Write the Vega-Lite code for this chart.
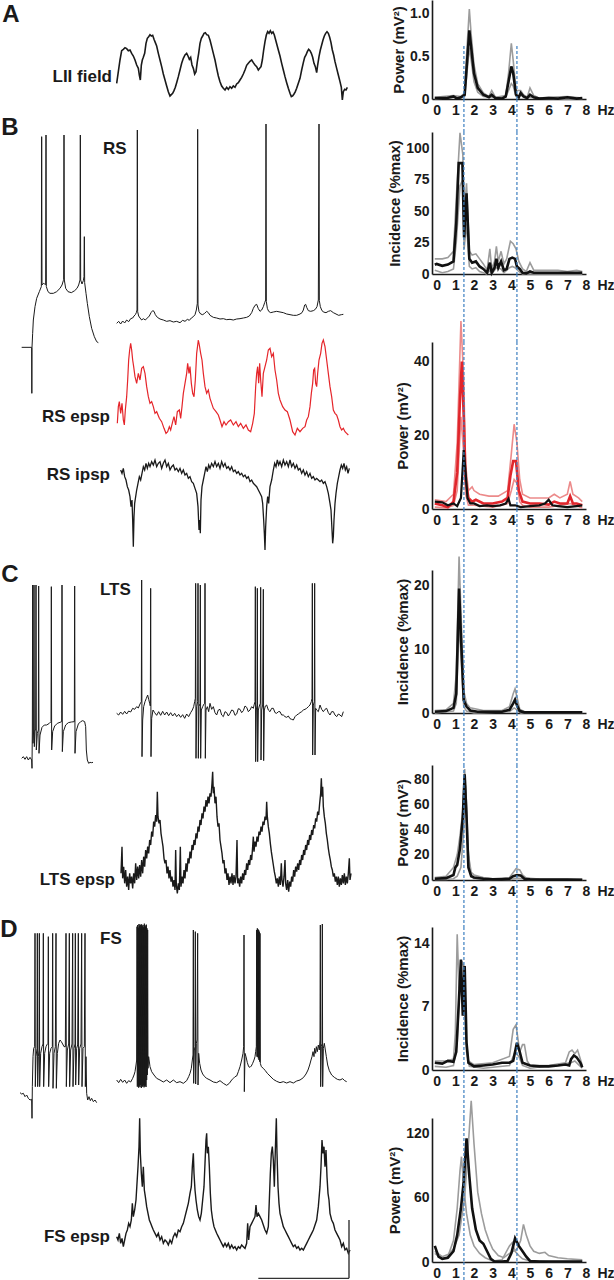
{
"$schema": "https://vega.github.io/schema/vega-lite/v6.json",
"padding": 0,
"autosize": {"type": "pad"},
"background": "white",
"spacing": 0,
"bounds": "flush",
"config": {
 "view": {"stroke": null},
 "axis": {"labelFont": "Liberation Sans", "labelFontWeight": "bold", "labelFontSize": 14, "labelColor": "#1a1a1a", "titleFont": "Liberation Sans", "titleFontWeight": "bold", "titleFontSize": 15, "titleColor": "#1a1a1a", "domainColor": "#1a1a1a", "domainWidth": 1.6, "ticks": false, "grid": false, "labelOverlap": false, "labelSeparation": 0},
 "axisX": {"labelFlush": false, "labelAngle": 0, "labelPadding": 4, "titleFontSize": 14, "titleX": 165, "titleY": 4, "titleAlign": "left", "titleBaseline": "top", "titleAngle": 0},
 "axisY": {"labelPadding": 3, "titlePadding": 3}
},
"datasets": {
 "guides": [{"hz": 1.46}, {"hz": 4.3}],
 "bar": [{"t": 1696, "t2": 2784, "v": -8.5, "v2": -8.5}, {"t": 2784, "t2": 2784, "v": -8.5, "v2": 9}],
 "lii": [{"t":-4,"v":0.5},{"t":16,"v":0.85},{"t":36,"v":1.2},{"t":56,"v":1.48},{"t":76,"v":1.52},{"t":96,"v":1.57},{"t":116,"v":1.54},{"t":136,"v":1.48},{"t":156,"v":1.5},{"t":176,"v":1.4},{"t":196,"v":1.32},{"t":216,"v":1.2},{"t":236,"v":1.05},{"t":256,"v":0.95},{"t":268,"v":0.75},{"t":280,"v":0.6},{"t":292,"v":1.05},{"t":304,"v":1.2},{"t":316,"v":1.28},{"t":332,"v":1.4},{"t":348,"v":1.7},{"t":364,"v":1.85},{"t":380,"v":1.9},{"t":396,"v":1.96},{"t":412,"v":1.92},{"t":428,"v":1.94},{"t":444,"v":1.82},{"t":460,"v":1.72},{"t":476,"v":1.62},{"t":496,"v":1.4},{"t":516,"v":1.2},{"t":536,"v":1.0},{"t":556,"v":0.78},{"t":576,"v":0.6},{"t":596,"v":0.42},{"t":616,"v":0.25},{"t":636,"v":0.12},{"t":652,"v":0.16},{"t":668,"v":0.2},{"t":684,"v":0.28},{"t":700,"v":0.38},{"t":716,"v":0.52},{"t":736,"v":0.7},{"t":756,"v":0.9},{"t":776,"v":1.1},{"t":796,"v":1.25},{"t":816,"v":1.35},{"t":836,"v":1.4},{"t":852,"v":1.32},{"t":868,"v":1.22},{"t":884,"v":1.28},{"t":900,"v":1.05},{"t":916,"v":0.95},{"t":932,"v":0.78},{"t":948,"v":0.85},{"t":964,"v":1.15},{"t":980,"v":1.4},{"t":996,"v":1.7},{"t":1012,"v":1.85},{"t":1028,"v":1.92},{"t":1044,"v":2.0},{"t":1060,"v":2.02},{"t":1076,"v":1.96},{"t":1096,"v":1.94},{"t":1116,"v":1.8},{"t":1136,"v":1.6},{"t":1156,"v":1.4},{"t":1176,"v":1.2},{"t":1196,"v":0.95},{"t":1216,"v":0.72},{"t":1236,"v":0.55},{"t":1256,"v":0.42},{"t":1276,"v":0.35},{"t":1296,"v":0.3},{"t":1316,"v":0.38},{"t":1336,"v":0.32},{"t":1356,"v":0.4},{"t":1376,"v":0.35},{"t":1396,"v":0.42},{"t":1416,"v":0.38},{"t":1436,"v":0.48},{"t":1456,"v":0.52},{"t":1476,"v":0.6},{"t":1496,"v":0.68},{"t":1516,"v":0.78},{"t":1536,"v":0.9},{"t":1556,"v":1.04},{"t":1576,"v":1.1},{"t":1596,"v":1.16},{"t":1616,"v":1.2},{"t":1636,"v":1.12},{"t":1656,"v":1.05},{"t":1676,"v":1.0},{"t":1696,"v":0.9},{"t":1712,"v":0.95},{"t":1728,"v":1.0},{"t":1744,"v":1.2},{"t":1760,"v":1.5},{"t":1776,"v":1.75},{"t":1792,"v":1.95},{"t":1808,"v":2.05},{"t":1824,"v":2.0},{"t":1840,"v":2.08},{"t":1856,"v":2.0},{"t":1872,"v":2.04},{"t":1888,"v":1.95},{"t":1904,"v":1.8},{"t":1920,"v":1.65},{"t":1936,"v":1.5},{"t":1956,"v":1.32},{"t":1976,"v":1.1},{"t":1996,"v":0.9},{"t":2016,"v":0.7},{"t":2036,"v":0.52},{"t":2056,"v":0.35},{"t":2076,"v":0.2},{"t":2092,"v":0.1},{"t":2108,"v":0.12},{"t":2124,"v":0.18},{"t":2140,"v":0.25},{"t":2156,"v":0.35},{"t":2176,"v":0.5},{"t":2196,"v":0.65},{"t":2216,"v":0.9},{"t":2236,"v":1.12},{"t":2252,"v":1.28},{"t":2268,"v":1.35},{"t":2284,"v":1.45},{"t":2300,"v":1.52},{"t":2316,"v":1.48},{"t":2332,"v":1.4},{"t":2348,"v":1.28},{"t":2364,"v":1.1},{"t":2380,"v":1.0},{"t":2396,"v":0.82},{"t":2408,"v":1.05},{"t":2424,"v":1.3},{"t":2440,"v":1.5},{"t":2456,"v":1.65},{"t":2472,"v":1.8},{"t":2488,"v":1.92},{"t":2504,"v":2.0},{"t":2520,"v":2.05},{"t":2536,"v":2.0},{"t":2552,"v":1.88},{"t":2568,"v":1.72},{"t":2584,"v":1.5},{"t":2600,"v":1.35},{"t":2616,"v":1.15},{"t":2636,"v":0.95},{"t":2656,"v":0.75},{"t":2676,"v":0.55},{"t":2692,"v":0.38},{"t":2704,"v":0.0},{"t":2716,"v":0.25},{"t":2732,"v":0.32},{"t":2748,"v":0.3},{"t":2764,"v":0.38}],
 "rs": [{"t":-4,"v":-1.0},{"t":20,"v":-0.4},{"t":44,"v":-1.2},{"t":68,"v":-0.3},{"t":92,"v":-0.9},{"t":116,"v":0.0},{"t":140,"v":-0.5},{"t":164,"v":0.4},{"t":188,"v":0.6},{"t":204,"v":1.2},{"t":220,"v":1.6},{"t":232,"v":2.2},{"t":240,"v":3.0},{"t":244,"v":57.0},{"t":248,"v":2.5},{"t":260,"v":1.2},{"t":276,"v":0.6},{"t":296,"v":0.0},{"t":316,"v":0.4},{"t":340,"v":0.0},{"t":364,"v":0.6},{"t":388,"v":1.2},{"t":408,"v":2.2},{"t":428,"v":2.8},{"t":444,"v":2.6},{"t":460,"v":1.6},{"t":484,"v":0.8},{"t":516,"v":0.3},{"t":556,"v":0.0},{"t":596,"v":-0.4},{"t":636,"v":-0.2},{"t":676,"v":-0.6},{"t":716,"v":-0.4},{"t":756,"v":-0.8},{"t":788,"v":-0.1},{"t":816,"v":-0.4},{"t":844,"v":0.2},{"t":868,"v":-0.1},{"t":892,"v":0.6},{"t":916,"v":1.0},{"t":936,"v":1.6},{"t":952,"v":3.0},{"t":964,"v":5.0},{"t":968,"v":57.2},{"t":972,"v":4.5},{"t":984,"v":2.5},{"t":1004,"v":1.8},{"t":1028,"v":1.6},{"t":1052,"v":2.0},{"t":1076,"v":2.6},{"t":1096,"v":2.2},{"t":1116,"v":1.4},{"t":1156,"v":0.8},{"t":1196,"v":0.6},{"t":1236,"v":0.3},{"t":1276,"v":0.4},{"t":1316,"v":0.1},{"t":1356,"v":0.2},{"t":1396,"v":0.0},{"t":1436,"v":0.3},{"t":1476,"v":0.4},{"t":1516,"v":0.6},{"t":1556,"v":0.8},{"t":1588,"v":1.2},{"t":1616,"v":2.2},{"t":1636,"v":3.5},{"t":1656,"v":4.4},{"t":1676,"v":4.7},{"t":1696,"v":3.4},{"t":1716,"v":2.6},{"t":1736,"v":3.0},{"t":1756,"v":4.0},{"t":1772,"v":5.2},{"t":1784,"v":6.0},{"t":1788,"v":58.8},{"t":1792,"v":5.5},{"t":1804,"v":3.5},{"t":1820,"v":2.6},{"t":1844,"v":2.2},{"t":1876,"v":2.4},{"t":1916,"v":2.6},{"t":1956,"v":2.4},{"t":1996,"v":2.2},{"t":2036,"v":1.8},{"t":2076,"v":1.6},{"t":2116,"v":1.4},{"t":2156,"v":1.4},{"t":2196,"v":1.8},{"t":2220,"v":2.2},{"t":2236,"v":3.0},{"t":2252,"v":4.5},{"t":2264,"v":4.7},{"t":2276,"v":3.8},{"t":2296,"v":2.8},{"t":2324,"v":2.6},{"t":2356,"v":2.8},{"t":2380,"v":3.2},{"t":2400,"v":4.0},{"t":2416,"v":6.0},{"t":2424,"v":58.8},{"t":2428,"v":5.8},{"t":2440,"v":4.0},{"t":2456,"v":3.0},{"t":2476,"v":2.4},{"t":2508,"v":2.2},{"t":2536,"v":2.6},{"t":2564,"v":2.8},{"t":2596,"v":2.2},{"t":2628,"v":1.8},{"t":2660,"v":1.4},{"t":2692,"v":1.6},{"t":2716,"v":1.7}],
 "rsE": [{"t":4,"v":4.0},{"t":16,"v":9.0},{"t":28,"v":10.5},{"t":44,"v":7.0},{"t":60,"v":10.0},{"t":76,"v":5.0},{"t":88,"v":3.5},{"t":100,"v":8.0},{"t":116,"v":12.0},{"t":128,"v":17.0},{"t":140,"v":23.0},{"t":152,"v":26.0},{"t":164,"v":28.0},{"t":176,"v":26.0},{"t":188,"v":23.0},{"t":200,"v":21.0},{"t":216,"v":18.0},{"t":236,"v":16.0},{"t":256,"v":19.0},{"t":276,"v":17.0},{"t":296,"v":20.5},{"t":316,"v":21.0},{"t":336,"v":19.0},{"t":356,"v":15.0},{"t":376,"v":12.0},{"t":396,"v":10.0},{"t":416,"v":10.5},{"t":436,"v":9.0},{"t":456,"v":7.0},{"t":476,"v":7.5},{"t":508,"v":5.5},{"t":536,"v":4.5},{"t":564,"v":2.5},{"t":588,"v":1.0},{"t":608,"v":1.5},{"t":628,"v":3.0},{"t":644,"v":2.0},{"t":668,"v":4.5},{"t":684,"v":6.0},{"t":704,"v":3.5},{"t":724,"v":7.5},{"t":748,"v":8.0},{"t":764,"v":5.5},{"t":780,"v":9.0},{"t":796,"v":13.0},{"t":816,"v":16.0},{"t":836,"v":19.0},{"t":848,"v":22.0},{"t":864,"v":19.0},{"t":876,"v":21.0},{"t":892,"v":16.0},{"t":908,"v":13.0},{"t":924,"v":12.0},{"t":940,"v":17.0},{"t":956,"v":25.0},{"t":976,"v":29.0},{"t":988,"v":27.5},{"t":1004,"v":25.0},{"t":1020,"v":23.0},{"t":1036,"v":19.0},{"t":1056,"v":15.0},{"t":1076,"v":13.0},{"t":1096,"v":14.0},{"t":1116,"v":11.5},{"t":1136,"v":10.0},{"t":1156,"v":8.5},{"t":1188,"v":7.5},{"t":1216,"v":6.5},{"t":1236,"v":5.0},{"t":1260,"v":3.0},{"t":1284,"v":4.5},{"t":1308,"v":3.5},{"t":1336,"v":4.5},{"t":1364,"v":5.0},{"t":1396,"v":3.5},{"t":1428,"v":4.5},{"t":1456,"v":3.0},{"t":1484,"v":4.0},{"t":1516,"v":2.5},{"t":1548,"v":3.5},{"t":1576,"v":2.0},{"t":1604,"v":1.5},{"t":1628,"v":4.0},{"t":1648,"v":7.0},{"t":1664,"v":15.0},{"t":1676,"v":19.0},{"t":1688,"v":21.0},{"t":1700,"v":16.0},{"t":1712,"v":22.0},{"t":1724,"v":17.0},{"t":1740,"v":12.0},{"t":1756,"v":19.0},{"t":1776,"v":21.0},{"t":1796,"v":23.0},{"t":1816,"v":26.0},{"t":1836,"v":26.5},{"t":1856,"v":24.0},{"t":1876,"v":25.0},{"t":1896,"v":20.0},{"t":1916,"v":17.0},{"t":1936,"v":13.0},{"t":1956,"v":11.0},{"t":1988,"v":9.0},{"t":2016,"v":8.0},{"t":2044,"v":7.5},{"t":2076,"v":5.0},{"t":2108,"v":1.5},{"t":2136,"v":0.5},{"t":2164,"v":2.5},{"t":2196,"v":1.5},{"t":2228,"v":2.5},{"t":2256,"v":3.0},{"t":2276,"v":5.0},{"t":2296,"v":6.0},{"t":2316,"v":9.0},{"t":2332,"v":13.0},{"t":2348,"v":16.0},{"t":2360,"v":20.0},{"t":2372,"v":20.5},{"t":2384,"v":16.0},{"t":2396,"v":15.0},{"t":2408,"v":19.0},{"t":2424,"v":23.0},{"t":2444,"v":25.0},{"t":2460,"v":28.0},{"t":2476,"v":29.0},{"t":2496,"v":27.0},{"t":2516,"v":23.0},{"t":2536,"v":19.0},{"t":2556,"v":15.0},{"t":2576,"v":12.0},{"t":2596,"v":8.0},{"t":2616,"v":7.0},{"t":2636,"v":6.5},{"t":2656,"v":5.0},{"t":2676,"v":3.0},{"t":2696,"v":2.0},{"t":2716,"v":2.5},{"t":2736,"v":1.5},{"t":2756,"v":1.0},{"t":2776,"v":0.5}],
 "rsI": [{"t":44,"v":0},{"t":60,"v":-1},{"t":76,"v":0.5},{"t":92,"v":-2},{"t":108,"v":-3},{"t":124,"v":-5},{"t":140,"v":-6},{"t":156,"v":-8},{"t":168,"v":-11},{"t":180,"v":-9},{"t":188,"v":-15},{"t":196,"v":-23},{"t":204,"v":-14},{"t":212,"v":-10},{"t":224,"v":-8},{"t":236,"v":-6},{"t":252,"v":-4},{"t":268,"v":-2},{"t":284,"v":-3},{"t":300,"v":-1},{"t":316,"v":1},{"t":332,"v":0},{"t":348,"v":2},{"t":364,"v":0.5},{"t":380,"v":2},{"t":396,"v":1},{"t":416,"v":2.5},{"t":436,"v":1.5},{"t":456,"v":3},{"t":476,"v":1},{"t":496,"v":2},{"t":516,"v":2.5},{"t":536,"v":0.5},{"t":556,"v":2},{"t":576,"v":3},{"t":596,"v":1},{"t":616,"v":2},{"t":636,"v":0},{"t":656,"v":1},{"t":676,"v":1.5},{"t":696,"v":0},{"t":716,"v":0.5},{"t":736,"v":-0.5},{"t":756,"v":0.5},{"t":776,"v":-1},{"t":796,"v":0},{"t":816,"v":-1.5},{"t":836,"v":-1},{"t":856,"v":-2.5},{"t":876,"v":-2},{"t":896,"v":-3.5},{"t":916,"v":-4},{"t":936,"v":-5.5},{"t":956,"v":-7},{"t":972,"v":-11},{"t":984,"v":-18},{"t":992,"v":-15},{"t":1000,"v":-19},{"t":1008,"v":-9},{"t":1020,"v":-5},{"t":1036,"v":-3},{"t":1052,"v":-1},{"t":1068,"v":1},{"t":1084,"v":-0.5},{"t":1100,"v":1.5},{"t":1116,"v":0.5},{"t":1136,"v":2},{"t":1156,"v":1},{"t":1176,"v":2.5},{"t":1196,"v":1},{"t":1216,"v":2},{"t":1236,"v":0.5},{"t":1256,"v":2.5},{"t":1276,"v":1},{"t":1296,"v":2},{"t":1316,"v":0.5},{"t":1336,"v":1},{"t":1356,"v":0},{"t":1376,"v":1},{"t":1396,"v":-0.5},{"t":1416,"v":0},{"t":1436,"v":-1},{"t":1456,"v":-0.5},{"t":1476,"v":-1.5},{"t":1496,"v":-1},{"t":1516,"v":-2},{"t":1536,"v":-1.5},{"t":1556,"v":-2.5},{"t":1576,"v":-2},{"t":1596,"v":-3.5},{"t":1616,"v":-3},{"t":1636,"v":-4},{"t":1656,"v":-4.5},{"t":1676,"v":-5},{"t":1696,"v":-6},{"t":1716,"v":-7},{"t":1736,"v":-8},{"t":1748,"v":-10},{"t":1760,"v":-15},{"t":1768,"v":-19},{"t":1776,"v":-24},{"t":1784,"v":-17},{"t":1796,"v":-11},{"t":1808,"v":-8},{"t":1820,"v":-10},{"t":1836,"v":-5},{"t":1856,"v":-3},{"t":1876,"v":0},{"t":1892,"v":2},{"t":1908,"v":1},{"t":1924,"v":3},{"t":1940,"v":1.5},{"t":1956,"v":2.5},{"t":1976,"v":1},{"t":1996,"v":3},{"t":2016,"v":1.5},{"t":2036,"v":2.5},{"t":2056,"v":1},{"t":2076,"v":3},{"t":2096,"v":1},{"t":2116,"v":2},{"t":2136,"v":0.5},{"t":2156,"v":1.5},{"t":2176,"v":0},{"t":2196,"v":0.5},{"t":2216,"v":-1},{"t":2236,"v":0},{"t":2256,"v":-1.5},{"t":2276,"v":-0.5},{"t":2296,"v":-2},{"t":2316,"v":-1},{"t":2336,"v":-2.5},{"t":2356,"v":-2},{"t":2376,"v":-3},{"t":2396,"v":-2.5},{"t":2416,"v":-3},{"t":2436,"v":-3.5},{"t":2456,"v":-3},{"t":2476,"v":-4},{"t":2496,"v":-3.5},{"t":2516,"v":-5},{"t":2536,"v":-7},{"t":2556,"v":-10},{"t":2568,"v":-12},{"t":2580,"v":-18},{"t":2588,"v":-22},{"t":2596,"v":-20},{"t":2604,"v":-15},{"t":2616,"v":-10},{"t":2628,"v":-7},{"t":2644,"v":-4},{"t":2660,"v":-2},{"t":2676,"v":0},{"t":2692,"v":1.5},{"t":2708,"v":0.5},{"t":2724,"v":2},{"t":2740,"v":0},{"t":2756,"v":1},{"t":2772,"v":-1},{"t":2788,"v":0.5}],
 "stepB": [{"t":10,"v":0},{"t":66,"v":0},{"t":70,"v":0},{"t":71,"v":-13.8},{"t":72,"v":0},{"t":76,"v":4.2},{"t":80,"v":8.2},{"t":90,"v":12.2},{"t":100,"v":14.7},{"t":116,"v":16.7},{"t":128,"v":18.2},{"t":130,"v":63.2},{"t":132,"v":18.7},{"t":140,"v":19.2},{"t":148,"v":19.0},{"t":154,"v":18.8},{"t":156,"v":63.7},{"t":158,"v":18.2},{"t":168,"v":16.7},{"t":180,"v":16.2},{"t":200,"v":16.2},{"t":220,"v":16.7},{"t":240,"v":17.7},{"t":252,"v":18.7},{"t":260,"v":20.0},{"t":262,"v":20.4},{"t":264,"v":63.7},{"t":266,"v":20.2},{"t":274,"v":17.7},{"t":288,"v":16.7},{"t":308,"v":16.4},{"t":328,"v":17.0},{"t":342,"v":17.7},{"t":352,"v":18.7},{"t":360,"v":20.2},{"t":362,"v":63.7},{"t":364,"v":20.2},{"t":372,"v":19.0},{"t":380,"v":20.0},{"t":384,"v":21.2},{"t":386,"v":33.2},{"t":388,"v":19.4},{"t":396,"v":16.2},{"t":404,"v":13.2},{"t":416,"v":9.2},{"t":430,"v":5.7},{"t":446,"v":3.2},{"t":460,"v":1.7},{"t":470,"v":1.4}],
 "lts": [{"t":-4,"v":0},{"t":20,"v":-0.5},{"t":44,"v":0.4},{"t":68,"v":-0.3},{"t":92,"v":0.6},{"t":116,"v":-0.2},{"t":140,"v":0.7},{"t":164,"v":0.4},{"t":188,"v":1.5},{"t":212,"v":1.2},{"t":236,"v":2.0},{"t":256,"v":1.6},{"t":276,"v":2.8},{"t":292,"v":3.5},{"t":296,"v":40.0},{"t":300,"v":-13.0},{"t":308,"v":-2.0},{"t":320,"v":2.0},{"t":336,"v":3.5},{"t":352,"v":4.5},{"t":368,"v":5.5},{"t":380,"v":4.2},{"t":392,"v":3.0},{"t":400,"v":2.2},{"t":404,"v":37.5},{"t":408,"v":-13.0},{"t":416,"v":-1.5},{"t":432,"v":1.0},{"t":452,"v":0.2},{"t":476,"v":-0.6},{"t":500,"v":0.5},{"t":524,"v":-0.6},{"t":548,"v":0.6},{"t":572,"v":-0.5},{"t":596,"v":0.4},{"t":620,"v":-0.7},{"t":644,"v":0.2},{"t":668,"v":-0.8},{"t":692,"v":0},{"t":716,"v":-1.0},{"t":740,"v":-0.3},{"t":764,"v":-1.2},{"t":788,"v":-0.4},{"t":812,"v":-1.5},{"t":836,"v":-0.2},{"t":860,"v":-1.0},{"t":884,"v":0.2},{"t":904,"v":1.0},{"t":920,"v":2.0},{"t":932,"v":3.5},{"t":940,"v":4.5},{"t":944,"v":39.0},{"t":948,"v":-13.5},{"t":956,"v":2.0},{"t":968,"v":3.5},{"t":972,"v":39.0},{"t":976,"v":-13.5},{"t":984,"v":2.0},{"t":996,"v":3.0},{"t":1000,"v":38.5},{"t":1004,"v":-13.5},{"t":1012,"v":1.0},{"t":1028,"v":2.0},{"t":1044,"v":2.8},{"t":1052,"v":3.0},{"t":1056,"v":39.0},{"t":1060,"v":-13.5},{"t":1068,"v":1.0},{"t":1084,"v":2.0},{"t":1100,"v":0.5},{"t":1116,"v":3.0},{"t":1136,"v":1.2},{"t":1156,"v":2.0},{"t":1176,"v":0.2},{"t":1196,"v":-0.5},{"t":1216,"v":1.0},{"t":1236,"v":1.2},{"t":1256,"v":-0.5},{"t":1276,"v":-1.0},{"t":1296,"v":0.5},{"t":1316,"v":0.2},{"t":1336,"v":-0.8},{"t":1356,"v":0},{"t":1376,"v":1.0},{"t":1396,"v":0.8},{"t":1416,"v":-0.6},{"t":1436,"v":-0.2},{"t":1456,"v":1.4},{"t":1476,"v":1.2},{"t":1496,"v":0.2},{"t":1516,"v":0.8},{"t":1536,"v":2.2},{"t":1556,"v":1.8},{"t":1576,"v":0.5},{"t":1596,"v":1.0},{"t":1616,"v":2.0},{"t":1636,"v":1.5},{"t":1648,"v":2.8},{"t":1656,"v":3.5},{"t":1660,"v":38.0},{"t":1664,"v":-14.5},{"t":1672,"v":1.0},{"t":1680,"v":2.5},{"t":1684,"v":37.5},{"t":1688,"v":-14.5},{"t":1696,"v":1.0},{"t":1708,"v":2.2},{"t":1720,"v":3.0},{"t":1724,"v":37.8},{"t":1728,"v":-14.0},{"t":1736,"v":1.0},{"t":1748,"v":2.5},{"t":1756,"v":37.2},{"t":1760,"v":-14.2},{"t":1768,"v":1.0},{"t":1780,"v":2.2},{"t":1796,"v":2.5},{"t":1816,"v":1.0},{"t":1836,"v":0.5},{"t":1856,"v":1.5},{"t":1876,"v":1.5},{"t":1896,"v":0.2},{"t":1916,"v":0},{"t":1936,"v":0.5},{"t":1956,"v":0.5},{"t":1976,"v":-0.5},{"t":1996,"v":-0.5},{"t":2016,"v":-1.0},{"t":2036,"v":-1.2},{"t":2056,"v":-0.8},{"t":2076,"v":-1.6},{"t":2096,"v":-1.8},{"t":2116,"v":-2.0},{"t":2136,"v":-1.0},{"t":2156,"v":-0.5},{"t":2176,"v":-0.2},{"t":2196,"v":0.2},{"t":2216,"v":0.5},{"t":2236,"v":1.0},{"t":2256,"v":1.2},{"t":2276,"v":1.5},{"t":2296,"v":2.0},{"t":2316,"v":2.5},{"t":2332,"v":3.5},{"t":2340,"v":4.5},{"t":2344,"v":39.0},{"t":2348,"v":-12.5},{"t":2356,"v":2.5},{"t":2368,"v":3.5},{"t":2372,"v":39.0},{"t":2376,"v":-12.5},{"t":2384,"v":1.5},{"t":2396,"v":1.0},{"t":2416,"v":0.5},{"t":2436,"v":2.5},{"t":2456,"v":1.2},{"t":2476,"v":0.5},{"t":2496,"v":1.2},{"t":2516,"v":1.5},{"t":2536,"v":0.2},{"t":2556,"v":-0.5},{"t":2576,"v":0.5},{"t":2596,"v":0.5},{"t":2616,"v":-0.5},{"t":2636,"v":-1.0},{"t":2656,"v":-0.2},{"t":2676,"v":-0.5},{"t":2696,"v":-1.0},{"t":2716,"v":0.5}],
 "ltsE": [{"t":48,"v":2},{"t":60,"v":10},{"t":68,"v":0.5},{"t":80,"v":4},{"t":92,"v":-1},{"t":104,"v":3},{"t":116,"v":-2},{"t":128,"v":1},{"t":140,"v":-3},{"t":152,"v":2},{"t":164,"v":-1},{"t":176,"v":1},{"t":188,"v":-2.5},{"t":200,"v":2},{"t":212,"v":-1},{"t":224,"v":5},{"t":236,"v":0},{"t":248,"v":4},{"t":260,"v":0.5},{"t":272,"v":4.5},{"t":284,"v":1},{"t":296,"v":6},{"t":308,"v":2},{"t":320,"v":7},{"t":332,"v":4},{"t":344,"v":9},{"t":356,"v":6.5},{"t":368,"v":10},{"t":380,"v":8},{"t":392,"v":12},{"t":404,"v":10.5},{"t":416,"v":14.5},{"t":428,"v":13},{"t":440,"v":17.5},{"t":452,"v":16},{"t":464,"v":19.5},{"t":476,"v":17.5},{"t":484,"v":26.5},{"t":492,"v":19},{"t":504,"v":17},{"t":516,"v":18},{"t":528,"v":14},{"t":540,"v":12},{"t":552,"v":10},{"t":564,"v":6.5},{"t":576,"v":5},{"t":588,"v":6},{"t":600,"v":2},{"t":612,"v":4},{"t":624,"v":0.5},{"t":636,"v":3},{"t":648,"v":-0.5},{"t":660,"v":1},{"t":672,"v":-2},{"t":684,"v":0},{"t":696,"v":-3},{"t":704,"v":9},{"t":712,"v":-1.5},{"t":724,"v":-4},{"t":736,"v":-1},{"t":748,"v":-3},{"t":760,"v":10},{"t":768,"v":-2},{"t":780,"v":1},{"t":792,"v":-1},{"t":804,"v":3},{"t":816,"v":0.5},{"t":828,"v":5},{"t":840,"v":2.5},{"t":852,"v":6.5},{"t":864,"v":5},{"t":876,"v":8.5},{"t":888,"v":6.5},{"t":900,"v":10.5},{"t":912,"v":9},{"t":924,"v":12},{"t":936,"v":10.5},{"t":948,"v":14},{"t":960,"v":12.5},{"t":972,"v":16},{"t":984,"v":14.5},{"t":996,"v":18},{"t":1008,"v":16.5},{"t":1020,"v":20},{"t":1032,"v":18.5},{"t":1044,"v":22},{"t":1056,"v":20.5},{"t":1068,"v":24},{"t":1080,"v":22},{"t":1092,"v":25},{"t":1104,"v":23},{"t":1116,"v":26},{"t":1128,"v":25},{"t":1140,"v":29},{"t":1148,"v":32.5},{"t":1156,"v":26},{"t":1164,"v":28},{"t":1176,"v":23},{"t":1188,"v":25},{"t":1200,"v":19},{"t":1212,"v":16},{"t":1224,"v":17},{"t":1236,"v":12},{"t":1248,"v":10},{"t":1260,"v":8},{"t":1272,"v":5},{"t":1284,"v":6},{"t":1296,"v":2},{"t":1308,"v":3.5},{"t":1320,"v":0},{"t":1332,"v":2},{"t":1344,"v":-1.5},{"t":1356,"v":1},{"t":1368,"v":-1},{"t":1380,"v":2},{"t":1392,"v":-1.5},{"t":1404,"v":1.5},{"t":1416,"v":-1},{"t":1428,"v":1},{"t":1440,"v":12},{"t":1448,"v":-1},{"t":1460,"v":0.5},{"t":1472,"v":-2},{"t":1484,"v":1},{"t":1496,"v":-1},{"t":1508,"v":2},{"t":1520,"v":0},{"t":1532,"v":3},{"t":1544,"v":1.5},{"t":1556,"v":5},{"t":1568,"v":3},{"t":1580,"v":6},{"t":1592,"v":4.5},{"t":1604,"v":7.5},{"t":1616,"v":6},{"t":1628,"v":10},{"t":1636,"v":13},{"t":1644,"v":8.5},{"t":1656,"v":11.5},{"t":1668,"v":10},{"t":1680,"v":13},{"t":1692,"v":11.5},{"t":1704,"v":14.5},{"t":1716,"v":13.5},{"t":1728,"v":16},{"t":1740,"v":14.5},{"t":1752,"v":17.5},{"t":1764,"v":16.5},{"t":1776,"v":19},{"t":1788,"v":18},{"t":1796,"v":23.5},{"t":1804,"v":19},{"t":1816,"v":16},{"t":1828,"v":14},{"t":1840,"v":11},{"t":1852,"v":8.5},{"t":1864,"v":6.5},{"t":1876,"v":4.5},{"t":1888,"v":2.5},{"t":1900,"v":1},{"t":1912,"v":-1},{"t":1924,"v":0.5},{"t":1936,"v":-2},{"t":1948,"v":1},{"t":1960,"v":-1.5},{"t":1972,"v":5},{"t":1980,"v":0},{"t":1992,"v":-2},{"t":2004,"v":1},{"t":2016,"v":6},{"t":2024,"v":-1},{"t":2036,"v":-3},{"t":2048,"v":0},{"t":2060,"v":-3.5},{"t":2072,"v":-0.5},{"t":2084,"v":-2},{"t":2096,"v":1},{"t":2108,"v":-0.5},{"t":2120,"v":3},{"t":2132,"v":1},{"t":2144,"v":4},{"t":2156,"v":2.5},{"t":2168,"v":5},{"t":2180,"v":3},{"t":2192,"v":6},{"t":2204,"v":4.5},{"t":2216,"v":7.5},{"t":2228,"v":6},{"t":2240,"v":9},{"t":2252,"v":7.5},{"t":2264,"v":10.5},{"t":2276,"v":9},{"t":2288,"v":12},{"t":2300,"v":10.5},{"t":2312,"v":13.5},{"t":2324,"v":12},{"t":2336,"v":15},{"t":2348,"v":13.5},{"t":2360,"v":16.5},{"t":2372,"v":15.5},{"t":2384,"v":18.5},{"t":2396,"v":17.5},{"t":2408,"v":20.5},{"t":2420,"v":19.5},{"t":2432,"v":23},{"t":2444,"v":26},{"t":2452,"v":30.5},{"t":2460,"v":25},{"t":2468,"v":28},{"t":2476,"v":22},{"t":2488,"v":19},{"t":2500,"v":17},{"t":2512,"v":14},{"t":2524,"v":12},{"t":2536,"v":9.5},{"t":2548,"v":7.5},{"t":2560,"v":6},{"t":2572,"v":4},{"t":2584,"v":3},{"t":2596,"v":1},{"t":2608,"v":2},{"t":2620,"v":-0.5},{"t":2632,"v":1},{"t":2644,"v":-1.5},{"t":2656,"v":1},{"t":2668,"v":-2},{"t":2680,"v":0.5},{"t":2692,"v":-1.5},{"t":2704,"v":1.5},{"t":2716,"v":-1},{"t":2728,"v":2},{"t":2740,"v":-1.5},{"t":2752,"v":1},{"t":2764,"v":-1},{"t":2776,"v":2},{"t":2788,"v":6.5},{"t":2796,"v":0},{"t":2808,"v":2}],
 "stepC": [{"t":10,"v":0},{"t":20,"v":0.5},{"t":30,"v":-0.3},{"t":40,"v":0.5},{"t":50,"v":-0.5},{"t":60,"v":0.3},{"t":70,"v":-0.5},{"t":72,"v":-3.0},{"t":74,"v":8.5},{"t":76,"v":52.0},{"t":78,"v":4.5},{"t":82,"v":8.5},{"t":84,"v":52.0},{"t":86,"v":3.5},{"t":90,"v":8.5},{"t":94,"v":8.5},{"t":96,"v":52.0},{"t":98,"v":2.5},{"t":104,"v":7.5},{"t":110,"v":8.5},{"t":112,"v":51.7},{"t":114,"v":1.5},{"t":120,"v":7.0},{"t":132,"v":9.3},{"t":146,"v":10.0},{"t":160,"v":10.0},{"t":176,"v":10.5},{"t":186,"v":11.0},{"t":188,"v":51.5},{"t":190,"v":2.5},{"t":196,"v":8.0},{"t":208,"v":9.7},{"t":224,"v":10.5},{"t":240,"v":10.8},{"t":250,"v":11.0},{"t":252,"v":52.0},{"t":254,"v":2.0},{"t":260,"v":8.0},{"t":274,"v":10.0},{"t":290,"v":10.7},{"t":308,"v":10.9},{"t":326,"v":11.0},{"t":328,"v":51.7},{"t":330,"v":1.5},{"t":336,"v":8.0},{"t":350,"v":10.3},{"t":364,"v":11.0},{"t":376,"v":11.3},{"t":388,"v":11.0},{"t":394,"v":9.5},{"t":398,"v":2.5},{"t":404,"v":-0.5},{"t":412,"v":-1.5},{"t":420,"v":-1.2},{"t":430,"v":-1.3},{"t":438,"v":-1.2}],
 "fs": [{"t":-4,"v":0.5},{"t":20,"v":-0.3},{"t":44,"v":0.7},{"t":68,"v":-0.2},{"t":92,"v":0.5},{"t":116,"v":-0.5},{"t":140,"v":0.3},{"t":164,"v":-0.1},{"t":188,"v":1.0},{"t":204,"v":2.0},{"t":216,"v":3.0},{"t":228,"v":5.0},{"t":236,"v":6.5},{"t":240,"v":46.5},{"t":244,"v":-1.5},{"t":248,"v":47.0},{"t":252,"v":-1.0},{"t":256,"v":46.2},{"t":260,"v":-1.8},{"t":264,"v":47.3},{"t":268,"v":-1.2},{"t":272,"v":46.8},{"t":276,"v":-1.6},{"t":280,"v":47.1},{"t":284,"v":-1.0},{"t":288,"v":46.4},{"t":292,"v":-1.9},{"t":296,"v":47.2},{"t":300,"v":-1.3},{"t":304,"v":46.6},{"t":308,"v":-1.5},{"t":312,"v":47.0},{"t":316,"v":-1.1},{"t":320,"v":46.3},{"t":324,"v":-1.7},{"t":328,"v":47.4},{"t":332,"v":-1.4},{"t":336,"v":46.9},{"t":340,"v":-1.2},{"t":344,"v":46.5},{"t":348,"v":-1.6},{"t":352,"v":47.1},{"t":356,"v":0.5},{"t":360,"v":46.0},{"t":364,"v":2.0},{"t":368,"v":45.5},{"t":372,"v":4.0},{"t":380,"v":7.5},{"t":396,"v":4.5},{"t":416,"v":3.0},{"t":444,"v":2.0},{"t":476,"v":1.0},{"t":516,"v":0.5},{"t":556,"v":-0.1},{"t":596,"v":0.5},{"t":636,"v":-0.3},{"t":676,"v":0.5},{"t":716,"v":-0.3},{"t":756,"v":0},{"t":796,"v":-0.5},{"t":836,"v":0.3},{"t":860,"v":1.5},{"t":876,"v":2.5},{"t":892,"v":4.0},{"t":904,"v":6.5},{"t":912,"v":8.0},{"t":916,"v":45.5},{"t":920,"v":-0.5},{"t":928,"v":9.5},{"t":936,"v":10.5},{"t":940,"v":45.0},{"t":944,"v":-0.7},{"t":952,"v":11.5},{"t":960,"v":12.5},{"t":968,"v":44.5},{"t":972,"v":-1.0},{"t":980,"v":8.5},{"t":992,"v":5.5},{"t":1008,"v":3.5},{"t":1028,"v":2.3},{"t":1052,"v":1.5},{"t":1076,"v":1.0},{"t":1116,"v":0.5},{"t":1156,"v":-0.1},{"t":1196,"v":-0.3},{"t":1236,"v":0.3},{"t":1276,"v":-0.5},{"t":1316,"v":-1.1},{"t":1348,"v":-0.5},{"t":1376,"v":0.5},{"t":1396,"v":1.0},{"t":1416,"v":1.5},{"t":1436,"v":1.7},{"t":1456,"v":3.0},{"t":1476,"v":4.5},{"t":1496,"v":6.5},{"t":1512,"v":8.5},{"t":1520,"v":10.5},{"t":1524,"v":44.0},{"t":1528,"v":-3.0},{"t":1536,"v":8.5},{"t":1548,"v":7.5},{"t":1564,"v":5.7},{"t":1580,"v":4.5},{"t":1596,"v":4.3},{"t":1612,"v":4.7},{"t":1628,"v":5.5},{"t":1644,"v":6.5},{"t":1656,"v":7.5},{"t":1664,"v":9.0},{"t":1672,"v":10.5},{"t":1676,"v":45.5},{"t":1680,"v":7.5},{"t":1684,"v":46.0},{"t":1688,"v":7.5},{"t":1692,"v":45.7},{"t":1696,"v":7.0},{"t":1700,"v":45.5},{"t":1704,"v":6.5},{"t":1708,"v":45.0},{"t":1712,"v":6.0},{"t":1716,"v":44.5},{"t":1720,"v":5.5},{"t":1732,"v":4.5},{"t":1756,"v":4.0},{"t":1780,"v":3.3},{"t":1804,"v":2.5},{"t":1836,"v":1.7},{"t":1876,"v":0.7},{"t":1916,"v":0.1},{"t":1956,"v":-0.3},{"t":1996,"v":0},{"t":2036,"v":-0.4},{"t":2076,"v":0},{"t":2116,"v":-0.4},{"t":2156,"v":0.2},{"t":2196,"v":0.5},{"t":2236,"v":1.2},{"t":2268,"v":2.3},{"t":2292,"v":3.5},{"t":2312,"v":5.0},{"t":2328,"v":6.5},{"t":2340,"v":7.5},{"t":2352,"v":9.0},{"t":2364,"v":7.5},{"t":2372,"v":10.0},{"t":2384,"v":8.5},{"t":2392,"v":10.5},{"t":2404,"v":9.0},{"t":2416,"v":11.0},{"t":2428,"v":9.5},{"t":2436,"v":12.5},{"t":2440,"v":47.0},{"t":2444,"v":-1.5},{"t":2452,"v":10.5},{"t":2460,"v":11.5},{"t":2464,"v":47.3},{"t":2468,"v":-1.5},{"t":2476,"v":10.0},{"t":2488,"v":11.5},{"t":2500,"v":9.5},{"t":2512,"v":7.5},{"t":2528,"v":5.0},{"t":2548,"v":3.3},{"t":2576,"v":2.0},{"t":2608,"v":1.3},{"t":2644,"v":0.7},{"t":2676,"v":0.5},{"t":2708,"v":0.9},{"t":2732,"v":0.3},{"t":2756,"v":0}],
 "fsE": [{"t":-4,"v":4},{"t":12,"v":3},{"t":28,"v":5},{"t":44,"v":2},{"t":60,"v":3.5},{"t":76,"v":1},{"t":92,"v":3},{"t":108,"v":5},{"t":124,"v":6},{"t":140,"v":8},{"t":156,"v":7},{"t":172,"v":9},{"t":184,"v":14},{"t":196,"v":10},{"t":212,"v":12},{"t":228,"v":15},{"t":240,"v":20},{"t":252,"v":25},{"t":264,"v":31},{"t":272,"v":39.5},{"t":280,"v":29},{"t":292,"v":23},{"t":304,"v":19},{"t":316,"v":25},{"t":328,"v":18},{"t":340,"v":16},{"t":356,"v":13},{"t":372,"v":11},{"t":388,"v":9},{"t":404,"v":8},{"t":420,"v":7},{"t":436,"v":6},{"t":456,"v":5},{"t":476,"v":4},{"t":496,"v":5},{"t":516,"v":3},{"t":536,"v":4},{"t":556,"v":2},{"t":576,"v":3},{"t":596,"v":2.5},{"t":616,"v":1.5},{"t":636,"v":3},{"t":656,"v":2},{"t":676,"v":4},{"t":696,"v":5},{"t":716,"v":4},{"t":736,"v":6},{"t":756,"v":5.5},{"t":776,"v":7},{"t":796,"v":8},{"t":816,"v":10},{"t":836,"v":12},{"t":856,"v":14},{"t":876,"v":17},{"t":892,"v":19},{"t":904,"v":25},{"t":916,"v":29},{"t":924,"v":23},{"t":936,"v":18},{"t":948,"v":15},{"t":964,"v":12},{"t":980,"v":10},{"t":996,"v":9},{"t":1012,"v":11},{"t":1028,"v":15},{"t":1044,"v":19},{"t":1056,"v":26},{"t":1068,"v":33},{"t":1076,"v":35},{"t":1084,"v":29},{"t":1096,"v":31},{"t":1108,"v":25},{"t":1120,"v":17},{"t":1132,"v":12},{"t":1148,"v":9},{"t":1164,"v":7},{"t":1180,"v":6},{"t":1196,"v":5},{"t":1216,"v":4},{"t":1236,"v":3},{"t":1256,"v":2},{"t":1276,"v":1},{"t":1296,"v":2},{"t":1316,"v":1},{"t":1336,"v":2},{"t":1356,"v":0.5},{"t":1376,"v":1.5},{"t":1396,"v":0.5},{"t":1416,"v":1},{"t":1436,"v":0},{"t":1456,"v":1},{"t":1476,"v":0.5},{"t":1496,"v":1.5},{"t":1516,"v":1},{"t":1536,"v":0.5},{"t":1556,"v":2},{"t":1568,"v":8},{"t":1580,"v":3},{"t":1596,"v":7},{"t":1616,"v":8},{"t":1636,"v":9},{"t":1656,"v":10},{"t":1668,"v":13.5},{"t":1680,"v":10},{"t":1696,"v":11},{"t":1716,"v":10},{"t":1736,"v":9},{"t":1756,"v":7.5},{"t":1776,"v":6},{"t":1796,"v":5},{"t":1816,"v":7},{"t":1828,"v":15},{"t":1840,"v":23},{"t":1852,"v":29},{"t":1864,"v":31},{"t":1876,"v":27},{"t":1888,"v":19},{"t":1900,"v":30},{"t":1912,"v":39.5},{"t":1920,"v":29},{"t":1932,"v":19},{"t":1944,"v":14},{"t":1956,"v":11},{"t":1976,"v":9},{"t":1996,"v":7},{"t":2016,"v":6},{"t":2036,"v":5},{"t":2056,"v":4},{"t":2076,"v":3},{"t":2096,"v":2},{"t":2116,"v":1},{"t":2136,"v":1.5},{"t":2156,"v":0.5},{"t":2176,"v":1},{"t":2196,"v":0},{"t":2216,"v":0.5},{"t":2236,"v":0},{"t":2256,"v":1},{"t":2276,"v":2},{"t":2296,"v":3},{"t":2316,"v":4},{"t":2336,"v":5},{"t":2356,"v":6},{"t":2376,"v":7.5},{"t":2396,"v":9},{"t":2416,"v":13},{"t":2436,"v":19},{"t":2448,"v":25},{"t":2460,"v":33},{"t":2472,"v":29},{"t":2484,"v":31},{"t":2496,"v":25},{"t":2508,"v":30},{"t":2520,"v":22},{"t":2532,"v":17},{"t":2544,"v":15},{"t":2556,"v":11},{"t":2576,"v":9},{"t":2596,"v":8},{"t":2616,"v":6},{"t":2636,"v":5},{"t":2656,"v":4},{"t":2676,"v":3},{"t":2696,"v":1},{"t":2716,"v":2},{"t":2736,"v":0},{"t":2756,"v":0.5},{"t":2776,"v":-1},{"t":2796,"v":0}],
 "stepD": [{"t":0,"v":0.2},{"t":10,"v":-0.2},{"t":20,"v":0},{"t":30,"v":-1.0},{"t":40,"v":-0.5},{"t":50,"v":-1.5},{"t":60,"v":-2.0},{"t":70,"v":-1.8},{"t":72,"v":-7.5},{"t":74,"v":2.0},{"t":78,"v":11.0},{"t":82,"v":13.5},{"t":88,"v":14.0},{"t":90,"v":48.0},{"t":92,"v":2.0},{"t":96,"v":11.0},{"t":102,"v":13.5},{"t":104,"v":48.0},{"t":106,"v":2.0},{"t":110,"v":11.0},{"t":114,"v":13.0},{"t":116,"v":48.0},{"t":118,"v":2.0},{"t":124,"v":12.0},{"t":132,"v":14.0},{"t":138,"v":14.8},{"t":140,"v":48.0},{"t":142,"v":2.0},{"t":148,"v":12.0},{"t":156,"v":14.0},{"t":164,"v":14.8},{"t":168,"v":15.0},{"t":170,"v":47.0},{"t":172,"v":2.0},{"t":178,"v":12.0},{"t":186,"v":13.5},{"t":194,"v":14.0},{"t":196,"v":48.0},{"t":198,"v":1.5},{"t":204,"v":12.0},{"t":212,"v":14.0},{"t":216,"v":48.0},{"t":218,"v":1.5},{"t":224,"v":12.0},{"t":232,"v":15.0},{"t":240,"v":16.0},{"t":248,"v":15.5},{"t":256,"v":14.8},{"t":264,"v":14.0},{"t":272,"v":14.0},{"t":276,"v":48.0},{"t":278,"v":2.0},{"t":284,"v":13.0},{"t":292,"v":14.8},{"t":296,"v":48.0},{"t":298,"v":2.0},{"t":304,"v":13.0},{"t":312,"v":14.8},{"t":316,"v":48.0},{"t":318,"v":2.0},{"t":324,"v":13.5},{"t":330,"v":14.8},{"t":332,"v":48.0},{"t":334,"v":2.5},{"t":340,"v":13.5},{"t":346,"v":14.5},{"t":350,"v":48.0},{"t":352,"v":2.5},{"t":358,"v":13.5},{"t":366,"v":14.8},{"t":370,"v":48.0},{"t":372,"v":2.0},{"t":378,"v":13.5},{"t":386,"v":14.0},{"t":390,"v":48.0},{"t":392,"v":2.0},{"t":396,"v":11.0},{"t":400,"v":0},{"t":406,"v":-2.0},{"t":414,"v":-1.0},{"t":422,"v":-2.2},{"t":430,"v":-1.5},{"t":440,"v":-2.5},{"t":450,"v":-2.0},{"t":460,"v":-2.8}],
 "sA": [{"hz":-0.1,"p":0.01,"s":"mean"},{"hz":0.5,"p":0.01,"s":"mean"},{"hz":0.9,"p":0.03,"s":"mean"},{"hz":1.1,"p":0.005,"s":"mean"},{"hz":1.3,"p":0.02,"s":"mean"},{"hz":1.5,"p":0.05,"s":"mean"},{"hz":1.6,"p":0.35,"s":"mean"},{"hz":1.75,"p":0.8,"s":"mean"},{"hz":1.85,"p":0.6,"s":"mean"},{"hz":2.0,"p":0.3,"s":"mean"},{"hz":2.2,"p":0.13,"s":"mean"},{"hz":2.5,"p":0.05,"s":"mean"},{"hz":2.8,"p":0.02,"s":"mean"},{"hz":2.95,"p":0.05,"s":"mean"},{"hz":3.15,"p":0.01,"s":"mean"},{"hz":3.5,"p":0.005,"s":"mean"},{"hz":3.7,"p":0.03,"s":"mean"},{"hz":3.85,"p":0.2,"s":"mean"},{"hz":4.0,"p":0.38,"s":"mean"},{"hz":4.1,"p":0.3,"s":"mean"},{"hz":4.25,"p":0.05,"s":"mean"},{"hz":4.4,"p":0.02,"s":"mean"},{"hz":4.5,"p":0.07,"s":"mean"},{"hz":4.65,"p":0.03,"s":"mean"},{"hz":4.85,"p":0.01,"s":"mean"},{"hz":5.0,"p":0.05,"s":"mean"},{"hz":5.2,"p":0.02,"s":"mean"},{"hz":5.5,"p":0.005,"s":"mean"},{"hz":6.0,"p":0.01,"s":"mean"},{"hz":6.5,"p":0.005,"s":"mean"},{"hz":7.0,"p":0.02,"s":"mean"},{"hz":7.5,"p":0.005,"s":"mean"},{"hz":7.8,"p":0.01,"s":"mean"},
  {"hz":-0.1,"p":0.02,"s":"upper"},{"hz":0.9,"p":0.04,"s":"upper"},{"hz":1.3,"p":0.03,"s":"upper"},{"hz":1.5,"p":0.07,"s":"upper"},{"hz":1.6,"p":0.5,"s":"upper"},{"hz":1.75,"p":1.05,"s":"upper"},{"hz":1.85,"p":0.75,"s":"upper"},{"hz":2.0,"p":0.4,"s":"upper"},{"hz":2.2,"p":0.18,"s":"upper"},{"hz":2.5,"p":0.07,"s":"upper"},{"hz":2.8,"p":0.03,"s":"upper"},{"hz":2.95,"p":0.1,"s":"upper"},{"hz":3.15,"p":0.02,"s":"upper"},{"hz":3.7,"p":0.04,"s":"upper"},{"hz":3.85,"p":0.3,"s":"upper"},{"hz":4.0,"p":0.65,"s":"upper"},{"hz":4.1,"p":0.45,"s":"upper"},{"hz":4.25,"p":0.1,"s":"upper"},{"hz":4.5,"p":0.1,"s":"upper"},{"hz":4.65,"p":0.05,"s":"upper"},{"hz":4.85,"p":0.02,"s":"upper"},{"hz":5.0,"p":0.13,"s":"upper"},{"hz":5.2,"p":0.04,"s":"upper"},{"hz":5.5,"p":0.01,"s":"upper"},{"hz":6.0,"p":0.02,"s":"upper"},{"hz":7.0,"p":0.03,"s":"upper"},{"hz":7.8,"p":0.01,"s":"upper"},
  {"hz":-0.1,"p":0.0,"s":"lower"},{"hz":0.9,"p":0.02,"s":"lower"},{"hz":1.5,"p":0.03,"s":"lower"},{"hz":1.6,"p":0.25,"s":"lower"},{"hz":1.75,"p":0.6,"s":"lower"},{"hz":1.85,"p":0.45,"s":"lower"},{"hz":2.0,"p":0.2,"s":"lower"},{"hz":2.2,"p":0.08,"s":"lower"},{"hz":2.5,"p":0.03,"s":"lower"},{"hz":3.0,"p":0.02,"s":"lower"},{"hz":3.7,"p":0.02,"s":"lower"},{"hz":3.85,"p":0.1,"s":"lower"},{"hz":4.0,"p":0.18,"s":"lower"},{"hz":4.1,"p":0.15,"s":"lower"},{"hz":4.25,"p":0.03,"s":"lower"},{"hz":4.5,"p":0.04,"s":"lower"},{"hz":5.0,"p":0.02,"s":"lower"},{"hz":6.0,"p":0.0,"s":"lower"},{"hz":7.8,"p":0.0,"s":"lower"}],
 "sB1": [{"hz":-0.1,"p":7.4,"s":"mean"},{"hz":0,"p":8,"s":"mean"},{"hz":0.3,"p":6.5,"s":"mean"},{"hz":0.6,"p":7.5,"s":"mean"},{"hz":0.9,"p":10,"s":"mean"},{"hz":1.05,"p":40,"s":"mean"},{"hz":1.18,"p":88,"s":"mean"},{"hz":1.38,"p":88,"s":"mean"},{"hz":1.47,"p":29,"s":"mean"},{"hz":1.6,"p":64,"s":"mean"},{"hz":1.75,"p":12,"s":"mean"},{"hz":1.9,"p":9,"s":"mean"},{"hz":2.1,"p":10,"s":"mean"},{"hz":2.3,"p":6,"s":"mean"},{"hz":2.5,"p":4,"s":"mean"},{"hz":2.7,"p":1,"s":"mean"},{"hz":2.85,"p":9,"s":"mean"},{"hz":2.95,"p":1,"s":"mean"},{"hz":3.1,"p":5,"s":"mean"},{"hz":3.2,"p":12,"s":"mean"},{"hz":3.3,"p":5,"s":"mean"},{"hz":3.45,"p":10,"s":"mean"},{"hz":3.6,"p":3,"s":"mean"},{"hz":3.75,"p":4,"s":"mean"},{"hz":3.9,"p":12,"s":"mean"},{"hz":4.05,"p":13,"s":"mean"},{"hz":4.2,"p":12,"s":"mean"},{"hz":4.3,"p":6,"s":"mean"},{"hz":4.45,"p":4,"s":"mean"},{"hz":4.6,"p":1,"s":"mean"},{"hz":4.8,"p":0.5,"s":"mean"},{"hz":5.0,"p":2,"s":"mean"},{"hz":5.2,"p":1,"s":"mean"},{"hz":5.5,"p":1,"s":"mean"},{"hz":6,"p":1,"s":"mean"},{"hz":6.5,"p":1,"s":"mean"},{"hz":7,"p":1,"s":"mean"},{"hz":7.5,"p":1,"s":"mean"},{"hz":7.8,"p":1,"s":"mean"},
  {"hz":-0.1,"p":12,"s":"upper"},{"hz":0.3,"p":12,"s":"upper"},{"hz":0.6,"p":13,"s":"upper"},{"hz":0.9,"p":18,"s":"upper"},{"hz":1.05,"p":60,"s":"upper"},{"hz":1.25,"p":112,"s":"upper"},{"hz":1.4,"p":95,"s":"upper"},{"hz":1.47,"p":45,"s":"upper"},{"hz":1.6,"p":72,"s":"upper"},{"hz":1.75,"p":18,"s":"upper"},{"hz":1.9,"p":15,"s":"upper"},{"hz":2.1,"p":16,"s":"upper"},{"hz":2.3,"p":12,"s":"upper"},{"hz":2.5,"p":8,"s":"upper"},{"hz":2.7,"p":3,"s":"upper"},{"hz":2.85,"p":20,"s":"upper"},{"hz":2.95,"p":4,"s":"upper"},{"hz":3.1,"p":10,"s":"upper"},{"hz":3.2,"p":22,"s":"upper"},{"hz":3.3,"p":10,"s":"upper"},{"hz":3.45,"p":18,"s":"upper"},{"hz":3.6,"p":8,"s":"upper"},{"hz":3.75,"p":12,"s":"upper"},{"hz":3.95,"p":26,"s":"upper"},{"hz":4.1,"p":24,"s":"upper"},{"hz":4.25,"p":20,"s":"upper"},{"hz":4.4,"p":10,"s":"upper"},{"hz":4.6,"p":4,"s":"upper"},{"hz":4.8,"p":2,"s":"upper"},{"hz":5.0,"p":9,"s":"upper"},{"hz":5.2,"p":3,"s":"upper"},{"hz":5.5,"p":3,"s":"upper"},{"hz":6,"p":3,"s":"upper"},{"hz":6.5,"p":3,"s":"upper"},{"hz":7,"p":2,"s":"upper"},{"hz":7.5,"p":3,"s":"upper"},{"hz":7.8,"p":2,"s":"upper"},
  {"hz":-0.1,"p":3,"s":"lower"},{"hz":0.3,"p":1,"s":"lower"},{"hz":0.6,"p":2,"s":"lower"},{"hz":0.9,"p":4,"s":"lower"},{"hz":1.05,"p":25,"s":"lower"},{"hz":1.25,"p":70,"s":"lower"},{"hz":1.4,"p":75,"s":"lower"},{"hz":1.47,"p":20,"s":"lower"},{"hz":1.6,"p":40,"s":"lower"},{"hz":1.75,"p":6,"s":"lower"},{"hz":1.9,"p":4,"s":"lower"},{"hz":2.1,"p":5,"s":"lower"},{"hz":2.3,"p":2,"s":"lower"},{"hz":2.5,"p":1,"s":"lower"},{"hz":2.7,"p":0,"s":"lower"},{"hz":2.85,"p":3,"s":"lower"},{"hz":2.95,"p":0,"s":"lower"},{"hz":3.2,"p":5,"s":"lower"},{"hz":3.45,"p":4,"s":"lower"},{"hz":3.6,"p":1,"s":"lower"},{"hz":3.9,"p":5,"s":"lower"},{"hz":4.05,"p":6,"s":"lower"},{"hz":4.2,"p":5,"s":"lower"},{"hz":4.4,"p":2,"s":"lower"},{"hz":4.6,"p":0,"s":"lower"},{"hz":5,"p":0,"s":"lower"},{"hz":7.8,"p":0,"s":"lower"}],
 "sB2": [{"hz":-0.1,"p":1.5,"s":"mean"},{"hz":0.3,"p":1,"s":"mean"},{"hz":0.6,"p":0.5,"s":"mean"},{"hz":0.9,"p":2,"s":"mean"},{"hz":1.1,"p":10,"s":"mean"},{"hz":1.25,"p":30,"s":"mean"},{"hz":1.35,"p":40,"s":"mean"},{"hz":1.45,"p":25,"s":"mean"},{"hz":1.55,"p":8,"s":"mean"},{"hz":1.7,"p":3,"s":"mean"},{"hz":1.9,"p":2,"s":"mean"},{"hz":2.1,"p":2.5,"s":"mean"},{"hz":2.5,"p":1.5,"s":"mean"},{"hz":3,"p":1.5,"s":"mean"},{"hz":3.5,"p":2,"s":"mean"},{"hz":3.8,"p":3,"s":"mean"},{"hz":3.95,"p":9,"s":"mean"},{"hz":4.1,"p":13,"s":"mean"},{"hz":4.25,"p":13,"s":"mean"},{"hz":4.4,"p":5,"s":"mean"},{"hz":4.6,"p":2,"s":"mean"},{"hz":5,"p":1.5,"s":"mean"},{"hz":5.5,"p":1.5,"s":"mean"},{"hz":6,"p":1.2,"s":"mean"},{"hz":6.3,"p":2,"s":"mean"},{"hz":6.6,"p":1.5,"s":"mean"},{"hz":7,"p":1.5,"s":"mean"},{"hz":7.15,"p":3.5,"s":"mean"},{"hz":7.3,"p":1.5,"s":"mean"},{"hz":7.5,"p":1.5,"s":"mean"},{"hz":7.8,"p":1,"s":"mean"},
  {"hz":-0.1,"p":2.5,"s":"upper"},{"hz":0.5,"p":2,"s":"upper"},{"hz":0.9,"p":4,"s":"upper"},{"hz":1.1,"p":18,"s":"upper"},{"hz":1.3,"p":51,"s":"upper"},{"hz":1.45,"p":35,"s":"upper"},{"hz":1.55,"p":12,"s":"upper"},{"hz":1.7,"p":5,"s":"upper"},{"hz":1.9,"p":6,"s":"upper"},{"hz":2.0,"p":5,"s":"upper"},{"hz":2.3,"p":4,"s":"upper"},{"hz":2.8,"p":3.5,"s":"upper"},{"hz":3.3,"p":3.5,"s":"upper"},{"hz":3.8,"p":5,"s":"upper"},{"hz":4.0,"p":15,"s":"upper"},{"hz":4.15,"p":23,"s":"upper"},{"hz":4.3,"p":18,"s":"upper"},{"hz":4.45,"p":8,"s":"upper"},{"hz":4.6,"p":4,"s":"upper"},{"hz":5,"p":3,"s":"upper"},{"hz":5.5,"p":3,"s":"upper"},{"hz":6,"p":3,"s":"upper"},{"hz":6.3,"p":4,"s":"upper"},{"hz":6.6,"p":3,"s":"upper"},{"hz":7.0,"p":4,"s":"upper"},{"hz":7.15,"p":7.5,"s":"upper"},{"hz":7.3,"p":4,"s":"upper"},{"hz":7.6,"p":3,"s":"upper"},{"hz":7.8,"p":2,"s":"upper"},
  {"hz":-0.1,"p":0.5,"s":"lower"},{"hz":0.5,"p":0.3,"s":"lower"},{"hz":0.9,"p":1,"s":"lower"},{"hz":1.1,"p":5,"s":"lower"},{"hz":1.3,"p":25,"s":"lower"},{"hz":1.45,"p":15,"s":"lower"},{"hz":1.55,"p":4,"s":"lower"},{"hz":1.7,"p":1,"s":"lower"},{"hz":2,"p":1,"s":"lower"},{"hz":3,"p":0.5,"s":"lower"},{"hz":3.8,"p":1.5,"s":"lower"},{"hz":4.0,"p":5,"s":"lower"},{"hz":4.15,"p":8,"s":"lower"},{"hz":4.3,"p":7,"s":"lower"},{"hz":4.45,"p":2,"s":"lower"},{"hz":4.6,"p":1,"s":"lower"},{"hz":5,"p":0.5,"s":"lower"},{"hz":6,"p":0.5,"s":"lower"},{"hz":7.15,"p":1.5,"s":"lower"},{"hz":7.8,"p":0.3,"s":"lower"},
  {"hz":-0.1,"p":2,"s":"ipsp"},{"hz":0.3,"p":1.8,"s":"ipsp"},{"hz":0.6,"p":1,"s":"ipsp"},{"hz":0.9,"p":1.5,"s":"ipsp"},{"hz":1.1,"p":0.8,"s":"ipsp"},{"hz":1.3,"p":3,"s":"ipsp"},{"hz":1.45,"p":16,"s":"ipsp"},{"hz":1.55,"p":10,"s":"ipsp"},{"hz":1.65,"p":3,"s":"ipsp"},{"hz":1.8,"p":1.5,"s":"ipsp"},{"hz":2.0,"p":1.5,"s":"ipsp"},{"hz":2.3,"p":0.8,"s":"ipsp"},{"hz":2.7,"p":1,"s":"ipsp"},{"hz":3.0,"p":0.8,"s":"ipsp"},{"hz":3.4,"p":1,"s":"ipsp"},{"hz":3.7,"p":1.5,"s":"ipsp"},{"hz":3.85,"p":2.8,"s":"ipsp"},{"hz":3.95,"p":1,"s":"ipsp"},{"hz":4.2,"p":1,"s":"ipsp"},{"hz":4.5,"p":0.5,"s":"ipsp"},{"hz":5,"p":0.8,"s":"ipsp"},{"hz":5.5,"p":1,"s":"ipsp"},{"hz":5.8,"p":1.5,"s":"ipsp"},{"hz":6.0,"p":2.5,"s":"ipsp"},{"hz":6.2,"p":1,"s":"ipsp"},{"hz":6.5,"p":0.8,"s":"ipsp"},{"hz":7,"p":0.5,"s":"ipsp"},{"hz":7.5,"p":0.8,"s":"ipsp"},{"hz":7.8,"p":1,"s":"ipsp"}],
 "sC1": [{"hz":-0.1,"p":0.2,"s":"mean"},{"hz":0.5,"p":0.3,"s":"mean"},{"hz":0.9,"p":0.8,"s":"mean"},{"hz":1.05,"p":3,"s":"mean"},{"hz":1.2,"p":19.5,"s":"mean"},{"hz":1.3,"p":12,"s":"mean"},{"hz":1.45,"p":2,"s":"mean"},{"hz":1.6,"p":1,"s":"mean"},{"hz":1.8,"p":0.4,"s":"mean"},{"hz":2.2,"p":0.2,"s":"mean"},{"hz":3,"p":0.2,"s":"mean"},{"hz":3.5,"p":0.2,"s":"mean"},{"hz":3.9,"p":0.5,"s":"mean"},{"hz":4.1,"p":1.5,"s":"mean"},{"hz":4.2,"p":2.1,"s":"mean"},{"hz":4.3,"p":1.2,"s":"mean"},{"hz":4.45,"p":0.3,"s":"mean"},{"hz":4.7,"p":0.1,"s":"mean"},{"hz":5.5,"p":0.1,"s":"mean"},{"hz":6.5,"p":0.1,"s":"mean"},{"hz":7.8,"p":0.1,"s":"mean"},
  {"hz":-0.1,"p":0.4,"s":"upper"},{"hz":0.5,"p":0.5,"s":"upper"},{"hz":0.9,"p":1.5,"s":"upper"},{"hz":1.05,"p":6,"s":"upper"},{"hz":1.2,"p":24.5,"s":"upper"},{"hz":1.3,"p":16,"s":"upper"},{"hz":1.45,"p":3.5,"s":"upper"},{"hz":1.6,"p":1.5,"s":"upper"},{"hz":1.8,"p":0.8,"s":"upper"},{"hz":2.5,"p":0.4,"s":"upper"},{"hz":3.5,"p":0.4,"s":"upper"},{"hz":3.9,"p":1,"s":"upper"},{"hz":4.1,"p":3,"s":"upper"},{"hz":4.2,"p":3.8,"s":"upper"},{"hz":4.3,"p":2.5,"s":"upper"},{"hz":4.45,"p":0.6,"s":"upper"},{"hz":4.7,"p":0.2,"s":"upper"},{"hz":7.8,"p":0.2,"s":"upper"},
  {"hz":-0.1,"p":0,"s":"lower"},{"hz":0.9,"p":0.3,"s":"lower"},{"hz":1.05,"p":1.5,"s":"lower"},{"hz":1.2,"p":14,"s":"lower"},{"hz":1.3,"p":9,"s":"lower"},{"hz":1.45,"p":1,"s":"lower"},{"hz":1.6,"p":0.3,"s":"lower"},{"hz":2,"p":0,"s":"lower"},{"hz":3.9,"p":0.2,"s":"lower"},{"hz":4.15,"p":0.8,"s":"lower"},{"hz":4.3,"p":0.5,"s":"lower"},{"hz":4.5,"p":0,"s":"lower"},{"hz":7.8,"p":0,"s":"lower"}],
 "sC2": [{"hz":-0.1,"p":1,"s":"mean"},{"hz":0.5,"p":1.5,"s":"mean"},{"hz":0.9,"p":4,"s":"mean"},{"hz":1.0,"p":10,"s":"mean"},{"hz":1.1,"p":12,"s":"mean"},{"hz":1.25,"p":25,"s":"mean"},{"hz":1.4,"p":50,"s":"mean"},{"hz":1.5,"p":84,"s":"mean"},{"hz":1.6,"p":50,"s":"mean"},{"hz":1.7,"p":10,"s":"mean"},{"hz":1.85,"p":3,"s":"mean"},{"hz":2.0,"p":2,"s":"mean"},{"hz":2.5,"p":1,"s":"mean"},{"hz":3,"p":0.5,"s":"mean"},{"hz":3.5,"p":0.5,"s":"mean"},{"hz":3.9,"p":1,"s":"mean"},{"hz":4.1,"p":3,"s":"mean"},{"hz":4.3,"p":4,"s":"mean"},{"hz":4.5,"p":3.5,"s":"mean"},{"hz":4.7,"p":1,"s":"mean"},{"hz":5.0,"p":0.5,"s":"mean"},{"hz":6,"p":0.3,"s":"mean"},{"hz":7,"p":0.3,"s":"mean"},{"hz":7.8,"p":0.2,"s":"mean"},
  {"hz":-0.1,"p":2,"s":"upper"},{"hz":0.5,"p":3,"s":"upper"},{"hz":0.9,"p":10,"s":"upper"},{"hz":1.1,"p":20,"s":"upper"},{"hz":1.25,"p":35,"s":"upper"},{"hz":1.4,"p":55,"s":"upper"},{"hz":1.5,"p":88,"s":"upper"},{"hz":1.6,"p":60,"s":"upper"},{"hz":1.7,"p":20,"s":"upper"},{"hz":1.85,"p":6,"s":"upper"},{"hz":2.0,"p":4,"s":"upper"},{"hz":2.5,"p":2,"s":"upper"},{"hz":3,"p":1,"s":"upper"},{"hz":3.9,"p":2,"s":"upper"},{"hz":4.1,"p":6,"s":"upper"},{"hz":4.25,"p":9,"s":"upper"},{"hz":4.45,"p":8,"s":"upper"},{"hz":4.6,"p":4,"s":"upper"},{"hz":4.8,"p":1.5,"s":"upper"},{"hz":5.5,"p":0.8,"s":"upper"},{"hz":7.8,"p":0.5,"s":"upper"},
  {"hz":-0.1,"p":0.5,"s":"lower"},{"hz":0.5,"p":0.5,"s":"lower"},{"hz":0.9,"p":1,"s":"lower"},{"hz":1.1,"p":3,"s":"lower"},{"hz":1.3,"p":10,"s":"lower"},{"hz":1.45,"p":40,"s":"lower"},{"hz":1.55,"p":75,"s":"lower"},{"hz":1.65,"p":30,"s":"lower"},{"hz":1.8,"p":5,"s":"lower"},{"hz":2.0,"p":1,"s":"lower"},{"hz":3,"p":0.2,"s":"lower"},{"hz":4.0,"p":0.5,"s":"lower"},{"hz":4.3,"p":1.5,"s":"lower"},{"hz":4.6,"p":1,"s":"lower"},{"hz":5,"p":0.2,"s":"lower"},{"hz":7.8,"p":0,"s":"lower"}],
 "sD1": [{"hz":-0.1,"p":0.8,"s":"mean"},{"hz":0.3,"p":0.7,"s":"mean"},{"hz":0.6,"p":1,"s":"mean"},{"hz":0.9,"p":0.9,"s":"mean"},{"hz":1.05,"p":2,"s":"mean"},{"hz":1.2,"p":8,"s":"mean"},{"hz":1.3,"p":12.2,"s":"mean"},{"hz":1.4,"p":6,"s":"mean"},{"hz":1.5,"p":11.5,"s":"mean"},{"hz":1.6,"p":3,"s":"mean"},{"hz":1.7,"p":0.8,"s":"mean"},{"hz":2.0,"p":0.4,"s":"mean"},{"hz":2.5,"p":0.5,"s":"mean"},{"hz":3,"p":0.6,"s":"mean"},{"hz":3.5,"p":0.8,"s":"mean"},{"hz":3.9,"p":0.8,"s":"mean"},{"hz":4.1,"p":1,"s":"mean"},{"hz":4.3,"p":3,"s":"mean"},{"hz":4.45,"p":2,"s":"mean"},{"hz":4.6,"p":0.8,"s":"mean"},{"hz":5.0,"p":0.5,"s":"mean"},{"hz":5.5,"p":0.4,"s":"mean"},{"hz":6,"p":0.4,"s":"mean"},{"hz":6.5,"p":0.5,"s":"mean"},{"hz":6.9,"p":0.6,"s":"mean"},{"hz":7.1,"p":0.5,"s":"mean"},{"hz":7.2,"p":1.2,"s":"mean"},{"hz":7.35,"p":1.6,"s":"mean"},{"hz":7.5,"p":1.4,"s":"mean"},{"hz":7.7,"p":0.8,"s":"mean"},{"hz":7.8,"p":0.3,"s":"mean"},
  {"hz":-0.1,"p":1,"s":"upper"},{"hz":0.5,"p":1,"s":"upper"},{"hz":0.9,"p":1.2,"s":"upper"},{"hz":1.0,"p":4,"s":"upper"},{"hz":1.1,"p":15,"s":"upper"},{"hz":1.2,"p":9,"s":"upper"},{"hz":1.35,"p":12,"s":"upper"},{"hz":1.45,"p":11.5,"s":"upper"},{"hz":1.55,"p":4,"s":"upper"},{"hz":1.7,"p":1,"s":"upper"},{"hz":2.0,"p":0.6,"s":"upper"},{"hz":3,"p":0.8,"s":"upper"},{"hz":3.9,"p":1.5,"s":"upper"},{"hz":4.1,"p":4.5,"s":"upper"},{"hz":4.25,"p":5,"s":"upper"},{"hz":4.45,"p":2,"s":"upper"},{"hz":4.6,"p":2.8,"s":"upper"},{"hz":4.7,"p":2.8,"s":"upper"},{"hz":4.85,"p":1,"s":"upper"},{"hz":5,"p":0.5,"s":"upper"},{"hz":6,"p":0.5,"s":"upper"},{"hz":6.9,"p":0.8,"s":"upper"},{"hz":7.1,"p":2,"s":"upper"},{"hz":7.25,"p":2.2,"s":"upper"},{"hz":7.4,"p":1.8,"s":"upper"},{"hz":7.55,"p":2.2,"s":"upper"},{"hz":7.7,"p":1.2,"s":"upper"},{"hz":7.8,"p":0.5,"s":"upper"},
  {"hz":-0.1,"p":0.4,"s":"lower"},{"hz":0.5,"p":0.3,"s":"lower"},{"hz":0.9,"p":0.5,"s":"lower"},{"hz":1.1,"p":3,"s":"lower"},{"hz":1.25,"p":10,"s":"lower"},{"hz":1.35,"p":8,"s":"lower"},{"hz":1.5,"p":10,"s":"lower"},{"hz":1.6,"p":2,"s":"lower"},{"hz":1.75,"p":0.4,"s":"lower"},{"hz":2.5,"p":0.2,"s":"lower"},{"hz":3.9,"p":0.5,"s":"lower"},{"hz":4.2,"p":2,"s":"lower"},{"hz":4.4,"p":1.5,"s":"lower"},{"hz":4.6,"p":0.5,"s":"lower"},{"hz":5,"p":0.2,"s":"lower"},{"hz":7.2,"p":0.8,"s":"lower"},{"hz":7.4,"p":1,"s":"lower"},{"hz":7.6,"p":0.6,"s":"lower"},{"hz":7.8,"p":0.2,"s":"lower"}],
 "sD2": [{"hz":-0.1,"p":15,"s":"mean"},{"hz":0.1,"p":5,"s":"mean"},{"hz":0.3,"p":3,"s":"mean"},{"hz":0.6,"p":4,"s":"mean"},{"hz":0.9,"p":10,"s":"mean"},{"hz":1.1,"p":25,"s":"mean"},{"hz":1.3,"p":50,"s":"mean"},{"hz":1.45,"p":75,"s":"mean"},{"hz":1.6,"p":115,"s":"mean"},{"hz":1.75,"p":80,"s":"mean"},{"hz":1.9,"p":50,"s":"mean"},{"hz":2.1,"p":30,"s":"mean"},{"hz":2.3,"p":20,"s":"mean"},{"hz":2.5,"p":17,"s":"mean"},{"hz":2.7,"p":10,"s":"mean"},{"hz":2.9,"p":3,"s":"mean"},{"hz":3.1,"p":0.5,"s":"mean"},{"hz":3.5,"p":0.5,"s":"mean"},{"hz":3.8,"p":1,"s":"mean"},{"hz":4.0,"p":8,"s":"mean"},{"hz":4.2,"p":22,"s":"mean"},{"hz":4.4,"p":15,"s":"mean"},{"hz":4.6,"p":10,"s":"mean"},{"hz":4.8,"p":5,"s":"mean"},{"hz":5.0,"p":1,"s":"mean"},{"hz":5.5,"p":0.5,"s":"mean"},{"hz":6,"p":0.5,"s":"mean"},{"hz":7,"p":0.5,"s":"mean"},{"hz":7.8,"p":0.5,"s":"mean"},
  {"hz":-0.1,"p":10,"s":"upper"},{"hz":0.3,"p":5,"s":"upper"},{"hz":0.6,"p":7,"s":"upper"},{"hz":0.9,"p":12,"s":"upper"},{"hz":1.2,"p":25,"s":"upper"},{"hz":1.5,"p":60,"s":"upper"},{"hz":1.7,"p":110,"s":"upper"},{"hz":1.85,"p":150,"s":"upper"},{"hz":2.0,"p":110,"s":"upper"},{"hz":2.2,"p":65,"s":"upper"},{"hz":2.4,"p":45,"s":"upper"},{"hz":2.6,"p":30,"s":"upper"},{"hz":2.8,"p":20,"s":"upper"},{"hz":3.0,"p":12,"s":"upper"},{"hz":3.3,"p":6,"s":"upper"},{"hz":3.6,"p":4,"s":"upper"},{"hz":3.9,"p":8,"s":"upper"},{"hz":4.1,"p":10,"s":"upper"},{"hz":4.3,"p":12,"s":"upper"},{"hz":4.5,"p":20,"s":"upper"},{"hz":4.65,"p":35,"s":"upper"},{"hz":4.8,"p":25,"s":"upper"},{"hz":5.0,"p":15,"s":"upper"},{"hz":5.2,"p":10,"s":"upper"},{"hz":5.5,"p":8,"s":"upper"},{"hz":5.8,"p":9,"s":"upper"},{"hz":6.0,"p":6,"s":"upper"},{"hz":6.5,"p":4,"s":"upper"},{"hz":7,"p":3,"s":"upper"},{"hz":7.8,"p":2,"s":"upper"},
  {"hz":-0.1,"p":8,"s":"lower"},{"hz":0.3,"p":3,"s":"lower"},{"hz":0.6,"p":5,"s":"lower"},{"hz":0.9,"p":20,"s":"lower"},{"hz":1.1,"p":50,"s":"lower"},{"hz":1.25,"p":85,"s":"lower"},{"hz":1.33,"p":98,"s":"lower"},{"hz":1.45,"p":70,"s":"lower"},{"hz":1.6,"p":45,"s":"lower"},{"hz":1.8,"p":25,"s":"lower"},{"hz":2.0,"p":15,"s":"lower"},{"hz":2.3,"p":8,"s":"lower"},{"hz":2.6,"p":4,"s":"lower"},{"hz":3,"p":1,"s":"lower"},{"hz":3.5,"p":2,"s":"lower"},{"hz":3.9,"p":15,"s":"lower"},{"hz":4.05,"p":18,"s":"lower"},{"hz":4.2,"p":10,"s":"lower"},{"hz":4.4,"p":6,"s":"lower"},{"hz":4.6,"p":3,"s":"lower"},{"hz":5.0,"p":1,"s":"lower"},{"hz":5.5,"p":1,"s":"lower"},{"hz":6,"p":0.5,"s":"lower"},{"hz":7.8,"p":0.5,"s":"lower"}]
},
"hconcat": [
 {
  "width": 432, "height": 1280,
  "resolve": {"scale": {"x": "independent", "y": "independent"}},
  "layer": [
   {
    "resolve": {"scale": {"y": "independent"}},
    "layer": [
     {"layer": [
      {"data": {"name": "lii"}, "mark": {"type": "line", "color": "#1a1a1a", "strokeWidth": 1.6}, "encoding": {"x": {"field": "t", "type": "quantitative", "scale": {"domain": [-1404, 3780], "nice": false, "zero": false}, "axis": null}, "y": {"field": "v", "type": "quantitative", "scale": {"domain": [-35.4, 3.0], "nice": false, "zero": false}, "axis": null}}},
      {"data": {"values": [{"label": "LII field"}]}, "mark": {"type": "text", "align": "right", "baseline": "middle", "font": "Liberation Sans", "fontSize": 17, "fontWeight": "bold", "color": "#1a1a1a"}, "encoding": {"x": {"datum": -60, "axis": null}, "y": {"datum": 0.705, "axis": null}, "text": {"field": "label"}}},
      {"data": {"values": [{"label": "A"}]}, "mark": {"type": "text", "align": "center", "baseline": "middle", "font": "Liberation Sans", "fontSize": 24, "fontWeight": "bold", "color": "#1a1a1a"}, "encoding": {"x": {"datum": -1272, "axis": null}, "y": {"datum": 2.55, "axis": null}, "text": {"field": "label"}}}
     ]},
     {"layer": [
      {"data": {"name": "rs"}, "mark": {"type": "line", "color": "#1a1a1a", "strokeWidth": 1}, "encoding": {"x": {"field": "t", "type": "quantitative", "scale": {"domain": [-1404, 3780], "nice": false, "zero": false}, "axis": null}, "y": {"field": "v", "type": "quantitative", "scale": {"domain": [-288, 96], "nice": false, "zero": false}, "axis": null}}},
      {"data": {"values": [{"label": "RS"}]}, "mark": {"type": "text", "align": "left", "baseline": "middle", "font": "Liberation Sans", "fontSize": 17, "fontWeight": "bold", "color": "#1a1a1a"}, "encoding": {"x": {"datum": -168, "axis": null}, "y": {"datum": 51.3, "axis": null}, "text": {"field": "label"}}},
      {"data": {"values": [{"label": "B"}]}, "mark": {"type": "text", "align": "center", "baseline": "middle", "font": "Liberation Sans", "fontSize": 24, "fontWeight": "bold", "color": "#1a1a1a"}, "encoding": {"x": {"datum": -1284, "axis": null}, "y": {"datum": 57.6, "axis": null}, "text": {"field": "label"}}}
     ]},
     {"layer": [
      {"data": {"name": "rsE"}, "mark": {"type": "line", "color": "#e5252a", "strokeWidth": 1.2}, "encoding": {"x": {"field": "t", "type": "quantitative", "scale": {"domain": [-1404, 3780], "nice": false, "zero": false}, "axis": null}, "y": {"field": "v", "type": "quantitative", "scale": {"domain": [-253, 131], "nice": false, "zero": false}, "axis": null}}},
      {"data": {"values": [{"label": "RS epsp"}]}, "mark": {"type": "text", "align": "right", "baseline": "middle", "font": "Liberation Sans", "fontSize": 17, "fontWeight": "bold", "color": "#1a1a1a"}, "encoding": {"x": {"datum": -84, "axis": null}, "y": {"datum": 6.05, "axis": null}, "text": {"field": "label"}}}
     ]},
     {"layer": [
      {"data": {"name": "rsI"}, "mark": {"type": "line", "color": "#1a1a1a", "strokeWidth": 1.3}, "encoding": {"x": {"field": "t", "type": "quantitative", "scale": {"domain": [-1404, 3780], "nice": false, "zero": false}, "axis": null}, "y": {"field": "v", "type": "quantitative", "scale": {"domain": [-243, 141], "nice": false, "zero": false}, "axis": null}}},
      {"data": {"values": [{"label": "RS ipsp"}]}, "mark": {"type": "text", "align": "right", "baseline": "middle", "font": "Liberation Sans", "fontSize": 17, "fontWeight": "bold", "color": "#1a1a1a"}, "encoding": {"x": {"datum": -84, "axis": null}, "y": {"datum": -1.5, "axis": null}, "text": {"field": "label"}}}
     ]},
     {"layer": [
      {"data": {"name": "lts"}, "mark": {"type": "line", "color": "#1a1a1a", "strokeWidth": 1}, "encoding": {"x": {"field": "t", "type": "quantitative", "scale": {"domain": [-1404, 3780], "nice": false, "zero": false}, "axis": null}, "y": {"field": "v", "type": "quantitative", "scale": {"domain": [-170, 214], "nice": false, "zero": false}, "axis": null}}},
      {"data": {"values": [{"label": "LTS"}]}, "mark": {"type": "text", "align": "left", "baseline": "middle", "font": "Liberation Sans", "fontSize": 17, "fontWeight": "bold", "color": "#1a1a1a"}, "encoding": {"x": {"datum": -204, "axis": null}, "y": {"datum": 37, "axis": null}, "text": {"field": "label"}}},
      {"data": {"values": [{"label": "C"}]}, "mark": {"type": "text", "align": "center", "baseline": "middle", "font": "Liberation Sans", "fontSize": 24, "fontWeight": "bold", "color": "#1a1a1a"}, "encoding": {"x": {"datum": -1284, "axis": null}, "y": {"datum": 41.5, "axis": null}, "text": {"field": "label"}}}
     ]},
     {"layer": [
      {"data": {"name": "ltsE"}, "mark": {"type": "line", "color": "#1a1a1a", "strokeWidth": 1.4}, "encoding": {"x": {"field": "t", "type": "quantitative", "scale": {"domain": [-1404, 3780], "nice": false, "zero": false}, "axis": null}, "y": {"field": "v", "type": "quantitative", "scale": {"domain": [-120, 264], "nice": false, "zero": false}, "axis": null}}},
      {"data": {"values": [{"label": "LTS epsp"}]}, "mark": {"type": "text", "align": "right", "baseline": "middle", "font": "Liberation Sans", "fontSize": 17, "fontWeight": "bold", "color": "#1a1a1a"}, "encoding": {"x": {"datum": -24, "axis": null}, "y": {"datum": 0, "axis": null}, "text": {"field": "label"}}}
     ]},
     {"layer": [
      {"data": {"name": "fs"}, "mark": {"type": "line", "color": "#1a1a1a", "strokeWidth": 1}, "encoding": {"x": {"field": "t", "type": "quantitative", "scale": {"domain": [-1404, 3780], "nice": false, "zero": false}, "axis": null}, "y": {"field": "v", "type": "quantitative", "scale": {"domain": [-59.5, 324.5], "nice": false, "zero": false}, "axis": null}}},
      {"data": {"values": [{"label": "FS"}]}, "mark": {"type": "text", "align": "left", "baseline": "middle", "font": "Liberation Sans", "fontSize": 17, "fontWeight": "bold", "color": "#1a1a1a"}, "encoding": {"x": {"datum": -204, "axis": null}, "y": {"datum": 42.8, "axis": null}, "text": {"field": "label"}}},
      {"data": {"values": [{"label": "D"}]}, "mark": {"type": "text", "align": "center", "baseline": "middle", "font": "Liberation Sans", "fontSize": 24, "fontWeight": "bold", "color": "#1a1a1a"}, "encoding": {"x": {"datum": -1296, "axis": null}, "y": {"datum": 45.5, "axis": null}, "text": {"field": "label"}}}
     ]},
     {"layer": [
      {"data": {"name": "fsE"}, "mark": {"type": "line", "color": "#1a1a1a", "strokeWidth": 1.4}, "encoding": {"x": {"field": "t", "type": "quantitative", "scale": {"domain": [-1404, 3780], "nice": false, "zero": false}, "axis": null}, "y": {"field": "v", "type": "quantitative", "scale": {"domain": [-9, 375], "nice": false, "zero": false}, "axis": null}}},
      {"data": {"values": [{"label": "FS epsp"}]}, "mark": {"type": "text", "align": "right", "baseline": "middle", "font": "Liberation Sans", "fontSize": 17, "fontWeight": "bold", "color": "#1a1a1a"}, "encoding": {"x": {"datum": -84, "axis": null}, "y": {"datum": 3.9, "axis": null}, "text": {"field": "label"}}},
      {"data": {"name": "bar"}, "mark": {"type": "rule", "color": "#333333", "strokeWidth": 1.4}, "encoding": {"x": {"field": "t", "type": "quantitative", "axis": null}, "x2": {"field": "t2"}, "y": {"field": "v", "type": "quantitative", "axis": null}, "y2": {"field": "v2"}}}
     ]}
    ]
   },
   {
    "resolve": {"scale": {"y": "independent"}},
    "layer": [
     {"data": {"name": "stepB"}, "mark": {"type": "line", "color": "#1a1a1a", "strokeWidth": 1}, "encoding": {"x": {"field": "t", "type": "quantitative", "scale": {"domain": [-120, 2472], "nice": false, "zero": false}, "axis": null}, "y": {"field": "v", "type": "quantitative", "scale": {"domain": [-279.8, 104.2], "nice": false, "zero": false}, "axis": null}}},
     {"data": {"name": "stepC"}, "mark": {"type": "line", "color": "#1a1a1a", "strokeWidth": 1}, "encoding": {"x": {"field": "t", "type": "quantitative", "scale": {"domain": [-120, 2472], "nice": false, "zero": false}, "axis": null}, "y": {"field": "v", "type": "quantitative", "scale": {"domain": [-156.5, 227.5], "nice": false, "zero": false}, "axis": null}}},
     {"data": {"name": "stepD"}, "mark": {"type": "line", "color": "#1a1a1a", "strokeWidth": 1}, "encoding": {"x": {"field": "t", "type": "quantitative", "scale": {"domain": [-120, 2472], "nice": false, "zero": false}, "axis": null}, "y": {"field": "v", "type": "quantitative", "scale": {"domain": [-56, 328], "nice": false, "zero": false}, "axis": null}}}
    ]
   }
  ]
 },
 {
  "spacing": 0,
  "bounds": "flush",
  "vconcat": [
   {"width": 154, "height": 99, "layer": [
     {"data": {"name": "sA"}, "transform": [{"filter": "datum.s !== 'mean'"}], "mark": {"type": "line", "color": "#9c9c9c", "strokeWidth": 1.6, "clip": false}, "encoding": {"x": {"field": "hz", "type": "quantitative", "scale": {"domain": [-0.25, 8], "nice": false, "zero": false}, "axis": {"values": [0,1,2,3,4,5,6,7,8], "title": "Hz", "labelOverlap": false, "labelBound": false}}, "y": {"field": "p", "type": "quantitative", "scale": {"domain": [0, 1.155], "nice": false}, "axis": {"values": [0, 0.5, 1], "title": "Power (mV²)", "labelOverlap": false, "labelExpr": "datum.value === 0 ? '0' : format(datum.value, '.1f')"}}, "detail": {"field": "s"}}},
     {"data": {"name": "sA"}, "transform": [{"filter": "datum.s === 'mean'"}], "mark": {"type": "line", "color": "#111111", "strokeWidth": 2.6, "clip": false}, "encoding": {"x": {"field": "hz", "type": "quantitative", "axis": {"values": [0,1,2,3,4,5,6,7,8], "title": "Hz", "labelOverlap": false, "labelBound": false}}, "y": {"field": "p", "type": "quantitative", "axis": {"values": [0, 0.5, 1], "title": "Power (mV²)", "labelOverlap": false, "labelExpr": "datum.value === 0 ? '0' : format(datum.value, '.1f')"}}}},
     {"data": {"name": "guides"}, "mark": {"type": "rule", "color": "#3d7fc0", "strokeDash": [3, 2], "strokeWidth": 1.2}, "encoding": {"x": {"field": "hz", "type": "quantitative", "axis": {"values": [0,1,2,3,4,5,6,7,8], "title": "Hz", "labelOverlap": false, "labelBound": false}}, "y": {"datum": 0, "axis": {"values": [0, 0.5, 1], "title": "Power (mV²)", "labelOverlap": false, "labelExpr": "datum.value === 0 ? '0' : format(datum.value, '.1f')"}}, "y2": {"datum": 0.63}}}
   ]},
   {"width": 154, "height": 33, "data": {"name": "guides"}, "mark": {"type": "rule", "color": "#3d7fc0", "strokeDash": [3, 2], "strokeWidth": 1.2}, "encoding": {"x": {"field": "hz", "type": "quantitative", "scale": {"domain": [-0.25, 8], "nice": false, "zero": false}, "axis": null}}},
   {"width": 154, "height": 142, "layer": [
     {"data": {"name": "sB1"}, "transform": [{"filter": "datum.s !== 'mean'"}], "mark": {"type": "line", "color": "#9c9c9c", "strokeWidth": 1.6, "clip": false}, "encoding": {"x": {"field": "hz", "type": "quantitative", "scale": {"domain": [-0.25, 8], "nice": false, "zero": false}, "axis": {"values": [0,1,2,3,4,5,6,7,8], "title": "Hz", "labelOverlap": false, "labelBound": false}}, "y": {"field": "p", "type": "quantitative", "scale": {"domain": [0, 112.7], "nice": false}, "axis": {"values": [0, 25, 50, 75, 100], "title": "Incidence (%max)", "labelOverlap": false}}, "detail": {"field": "s"}}},
     {"data": {"name": "sB1"}, "transform": [{"filter": "datum.s === 'mean'"}], "mark": {"type": "line", "color": "#111111", "strokeWidth": 2.6, "clip": false}, "encoding": {"x": {"field": "hz", "type": "quantitative", "axis": {"values": [0,1,2,3,4,5,6,7,8], "title": "Hz", "labelOverlap": false, "labelBound": false}}, "y": {"field": "p", "type": "quantitative", "axis": {"values": [0, 25, 50, 75, 100], "title": "Incidence (%max)", "labelOverlap": false}}}},
     {"data": {"name": "guides"}, "mark": {"type": "rule", "color": "#3d7fc0", "strokeDash": [3, 2], "strokeWidth": 1.2}, "encoding": {"x": {"field": "hz", "type": "quantitative", "axis": {"values": [0,1,2,3,4,5,6,7,8], "title": "Hz", "labelOverlap": false, "labelBound": false}}}}
   ]},
   {"width": 154, "height": 68, "data": {"name": "guides"}, "mark": {"type": "rule", "color": "#3d7fc0", "strokeDash": [3, 2], "strokeWidth": 1.2}, "encoding": {"x": {"field": "hz", "type": "quantitative", "scale": {"domain": [-0.25, 8], "nice": false, "zero": false}, "axis": null}}},
   {"width": 154, "height": 167, "layer": [
     {"data": {"name": "sB2"}, "transform": [{"filter": "datum.s === 'upper' || datum.s === 'lower'"}], "mark": {"type": "line", "color": "#ec8a8a", "strokeWidth": 1.6, "clip": false}, "encoding": {"x": {"field": "hz", "type": "quantitative", "scale": {"domain": [-0.25, 8], "nice": false, "zero": false}, "axis": {"values": [0,1,2,3,4,5,6,7,8], "title": "Hz", "labelOverlap": false, "labelBound": false}}, "y": {"field": "p", "type": "quantitative", "scale": {"domain": [0, 45.3], "nice": false}, "axis": {"values": [0, 20, 40], "title": "Power (mV²)", "labelOverlap": false}}, "detail": {"field": "s"}}},
     {"data": {"name": "sB2"}, "transform": [{"filter": "datum.s === 'mean'"}], "mark": {"type": "line", "color": "#e0262c", "strokeWidth": 2.6, "clip": false}, "encoding": {"x": {"field": "hz", "type": "quantitative", "axis": {"values": [0,1,2,3,4,5,6,7,8], "title": "Hz", "labelOverlap": false, "labelBound": false}}, "y": {"field": "p", "type": "quantitative", "axis": {"values": [0, 20, 40], "title": "Power (mV²)", "labelOverlap": false}}}},
     {"data": {"name": "sB2"}, "transform": [{"filter": "datum.s === 'ipsp'"}], "mark": {"type": "line", "color": "#111111", "strokeWidth": 2.2, "clip": false}, "encoding": {"x": {"field": "hz", "type": "quantitative", "axis": {"values": [0,1,2,3,4,5,6,7,8], "title": "Hz", "labelOverlap": false, "labelBound": false}}, "y": {"field": "p", "type": "quantitative", "axis": {"values": [0, 20, 40], "title": "Power (mV²)", "labelOverlap": false}}}},
     {"data": {"name": "guides"}, "mark": {"type": "rule", "color": "#3d7fc0", "strokeDash": [3, 2], "strokeWidth": 1.2}, "encoding": {"x": {"field": "hz", "type": "quantitative", "axis": {"values": [0,1,2,3,4,5,6,7,8], "title": "Hz", "labelOverlap": false, "labelBound": false}}}}
   ]},
   {"width": 154, "height": 61, "data": {"name": "guides"}, "mark": {"type": "rule", "color": "#3d7fc0", "strokeDash": [3, 2], "strokeWidth": 1.2}, "encoding": {"x": {"field": "hz", "type": "quantitative", "scale": {"domain": [-0.25, 8], "nice": false, "zero": false}, "axis": null}}},
   {"width": 154, "height": 143, "layer": [
     {"data": {"name": "sC1"}, "transform": [{"filter": "datum.s !== 'mean'"}], "mark": {"type": "line", "color": "#9c9c9c", "strokeWidth": 1.6, "clip": false}, "encoding": {"x": {"field": "hz", "type": "quantitative", "scale": {"domain": [-0.25, 8], "nice": false, "zero": false}, "axis": {"values": [0,1,2,3,4,5,6,7,8], "title": "Hz", "labelOverlap": false, "labelBound": false}}, "y": {"field": "p", "type": "quantitative", "scale": {"domain": [0, 22.4], "nice": false}, "axis": {"values": [0, 10, 20], "title": "Incidence (%max)", "labelOverlap": false}}, "detail": {"field": "s"}}},
     {"data": {"name": "sC1"}, "transform": [{"filter": "datum.s === 'mean'"}], "mark": {"type": "line", "color": "#111111", "strokeWidth": 2.6, "clip": false}, "encoding": {"x": {"field": "hz", "type": "quantitative", "axis": {"values": [0,1,2,3,4,5,6,7,8], "title": "Hz", "labelOverlap": false, "labelBound": false}}, "y": {"field": "p", "type": "quantitative", "axis": {"values": [0, 10, 20], "title": "Incidence (%max)", "labelOverlap": false}}}},
     {"data": {"name": "guides"}, "mark": {"type": "rule", "color": "#3d7fc0", "strokeDash": [3, 2], "strokeWidth": 1.2}, "encoding": {"x": {"field": "hz", "type": "quantitative", "axis": {"values": [0,1,2,3,4,5,6,7,8], "title": "Hz", "labelOverlap": false, "labelBound": false}}}}
   ]},
   {"width": 154, "height": 52, "data": {"name": "guides"}, "mark": {"type": "rule", "color": "#3d7fc0", "strokeDash": [3, 2], "strokeWidth": 1.2}, "encoding": {"x": {"field": "hz", "type": "quantitative", "scale": {"domain": [-0.25, 8], "nice": false, "zero": false}, "axis": null}}},
   {"width": 154, "height": 115, "layer": [
     {"data": {"name": "sC2"}, "transform": [{"filter": "datum.s !== 'mean'"}], "mark": {"type": "line", "color": "#9c9c9c", "strokeWidth": 1.6, "clip": false}, "encoding": {"x": {"field": "hz", "type": "quantitative", "scale": {"domain": [-0.25, 8], "nice": false, "zero": false}, "axis": {"values": [0,1,2,3,4,5,6,7,8], "title": "Hz", "labelOverlap": false, "labelBound": false}}, "y": {"field": "p", "type": "quantitative", "scale": {"domain": [0, 91.3], "nice": false}, "axis": {"values": [0, 20, 40, 60, 80], "title": "Power (mV²)", "labelOverlap": false}}, "detail": {"field": "s"}}},
     {"data": {"name": "sC2"}, "transform": [{"filter": "datum.s === 'mean'"}], "mark": {"type": "line", "color": "#111111", "strokeWidth": 2.6, "clip": false}, "encoding": {"x": {"field": "hz", "type": "quantitative", "axis": {"values": [0,1,2,3,4,5,6,7,8], "title": "Hz", "labelOverlap": false, "labelBound": false}}, "y": {"field": "p", "type": "quantitative", "axis": {"values": [0, 20, 40, 60, 80], "title": "Power (mV²)", "labelOverlap": false}}}},
     {"data": {"name": "guides"}, "mark": {"type": "rule", "color": "#3d7fc0", "strokeDash": [3, 2], "strokeWidth": 1.2}, "encoding": {"x": {"field": "hz", "type": "quantitative", "axis": {"values": [0,1,2,3,4,5,6,7,8], "title": "Hz", "labelOverlap": false, "labelBound": false}}}}
   ]},
   {"width": 154, "height": 47, "data": {"name": "guides"}, "mark": {"type": "rule", "color": "#3d7fc0", "strokeDash": [3, 2], "strokeWidth": 1.2}, "encoding": {"x": {"field": "hz", "type": "quantitative", "scale": {"domain": [-0.25, 8], "nice": false, "zero": false}, "axis": null}}},
   {"width": 154, "height": 143, "layer": [
     {"data": {"name": "sD1"}, "transform": [{"filter": "datum.s !== 'mean'"}], "mark": {"type": "line", "color": "#9c9c9c", "strokeWidth": 1.6, "clip": false}, "encoding": {"x": {"field": "hz", "type": "quantitative", "scale": {"domain": [-0.25, 8], "nice": false, "zero": false}, "axis": {"values": [0,1,2,3,4,5,6,7,8], "title": "Hz", "labelOverlap": false, "labelBound": false}}, "y": {"field": "p", "type": "quantitative", "scale": {"domain": [0, 15.8], "nice": false}, "axis": {"values": [0, 7, 14], "title": "Incidence (%max)", "labelOverlap": false}}, "detail": {"field": "s"}}},
     {"data": {"name": "sD1"}, "transform": [{"filter": "datum.s === 'mean'"}], "mark": {"type": "line", "color": "#111111", "strokeWidth": 2.6, "clip": false}, "encoding": {"x": {"field": "hz", "type": "quantitative", "axis": {"values": [0,1,2,3,4,5,6,7,8], "title": "Hz", "labelOverlap": false, "labelBound": false}}, "y": {"field": "p", "type": "quantitative", "axis": {"values": [0, 7, 14], "title": "Incidence (%max)", "labelOverlap": false}}}},
     {"data": {"name": "guides"}, "mark": {"type": "rule", "color": "#3d7fc0", "strokeDash": [3, 2], "strokeWidth": 1.2}, "encoding": {"x": {"field": "hz", "type": "quantitative", "axis": {"values": [0,1,2,3,4,5,6,7,8], "title": "Hz", "labelOverlap": false, "labelBound": false}}}}
   ]},
   {"width": 154, "height": 48, "data": {"name": "guides"}, "mark": {"type": "rule", "color": "#3d7fc0", "strokeDash": [3, 2], "strokeWidth": 1.2}, "encoding": {"x": {"field": "hz", "type": "quantitative", "scale": {"domain": [-0.25, 8], "nice": false, "zero": false}, "axis": null}}},
   {"width": 154, "height": 144, "layer": [
     {"data": {"name": "sD2"}, "transform": [{"filter": "datum.s !== 'mean'"}], "mark": {"type": "line", "color": "#9c9c9c", "strokeWidth": 1.6, "clip": false}, "encoding": {"x": {"field": "hz", "type": "quantitative", "scale": {"domain": [-0.25, 8], "nice": false, "zero": false}, "axis": {"values": [0,1,2,3,4,5,6,7,8], "title": "Hz", "labelOverlap": false, "labelBound": false}}, "y": {"field": "p", "type": "quantitative", "scale": {"domain": [0, 134], "nice": false}, "axis": {"values": [0, 60, 120], "title": "Power (mV²)", "labelOverlap": false}}, "detail": {"field": "s"}}},
     {"data": {"name": "sD2"}, "transform": [{"filter": "datum.s === 'mean'"}], "mark": {"type": "line", "color": "#111111", "strokeWidth": 2.6, "clip": false}, "encoding": {"x": {"field": "hz", "type": "quantitative", "axis": {"values": [0,1,2,3,4,5,6,7,8], "title": "Hz", "labelOverlap": false, "labelBound": false}}, "y": {"field": "p", "type": "quantitative", "axis": {"values": [0, 60, 120], "title": "Power (mV²)", "labelOverlap": false}}}},
     {"data": {"name": "guides"}, "mark": {"type": "rule", "color": "#3d7fc0", "strokeDash": [3, 2], "strokeWidth": 1.2}, "encoding": {"x": {"field": "hz", "type": "quantitative", "axis": {"values": [0,1,2,3,4,5,6,7,8], "title": "Hz", "labelOverlap": false, "labelBound": false}}}}
   ]},
   {"width": 154, "height": 18, "data": {"name": "guides"}, "mark": {"type": "rule", "color": "#3d7fc0", "strokeDash": [3, 2], "strokeWidth": 1.2}, "encoding": {"x": {"field": "hz", "type": "quantitative", "scale": {"domain": [-0.25, 8], "nice": false, "zero": false}, "axis": null}}}
  ]
 }
]
}
